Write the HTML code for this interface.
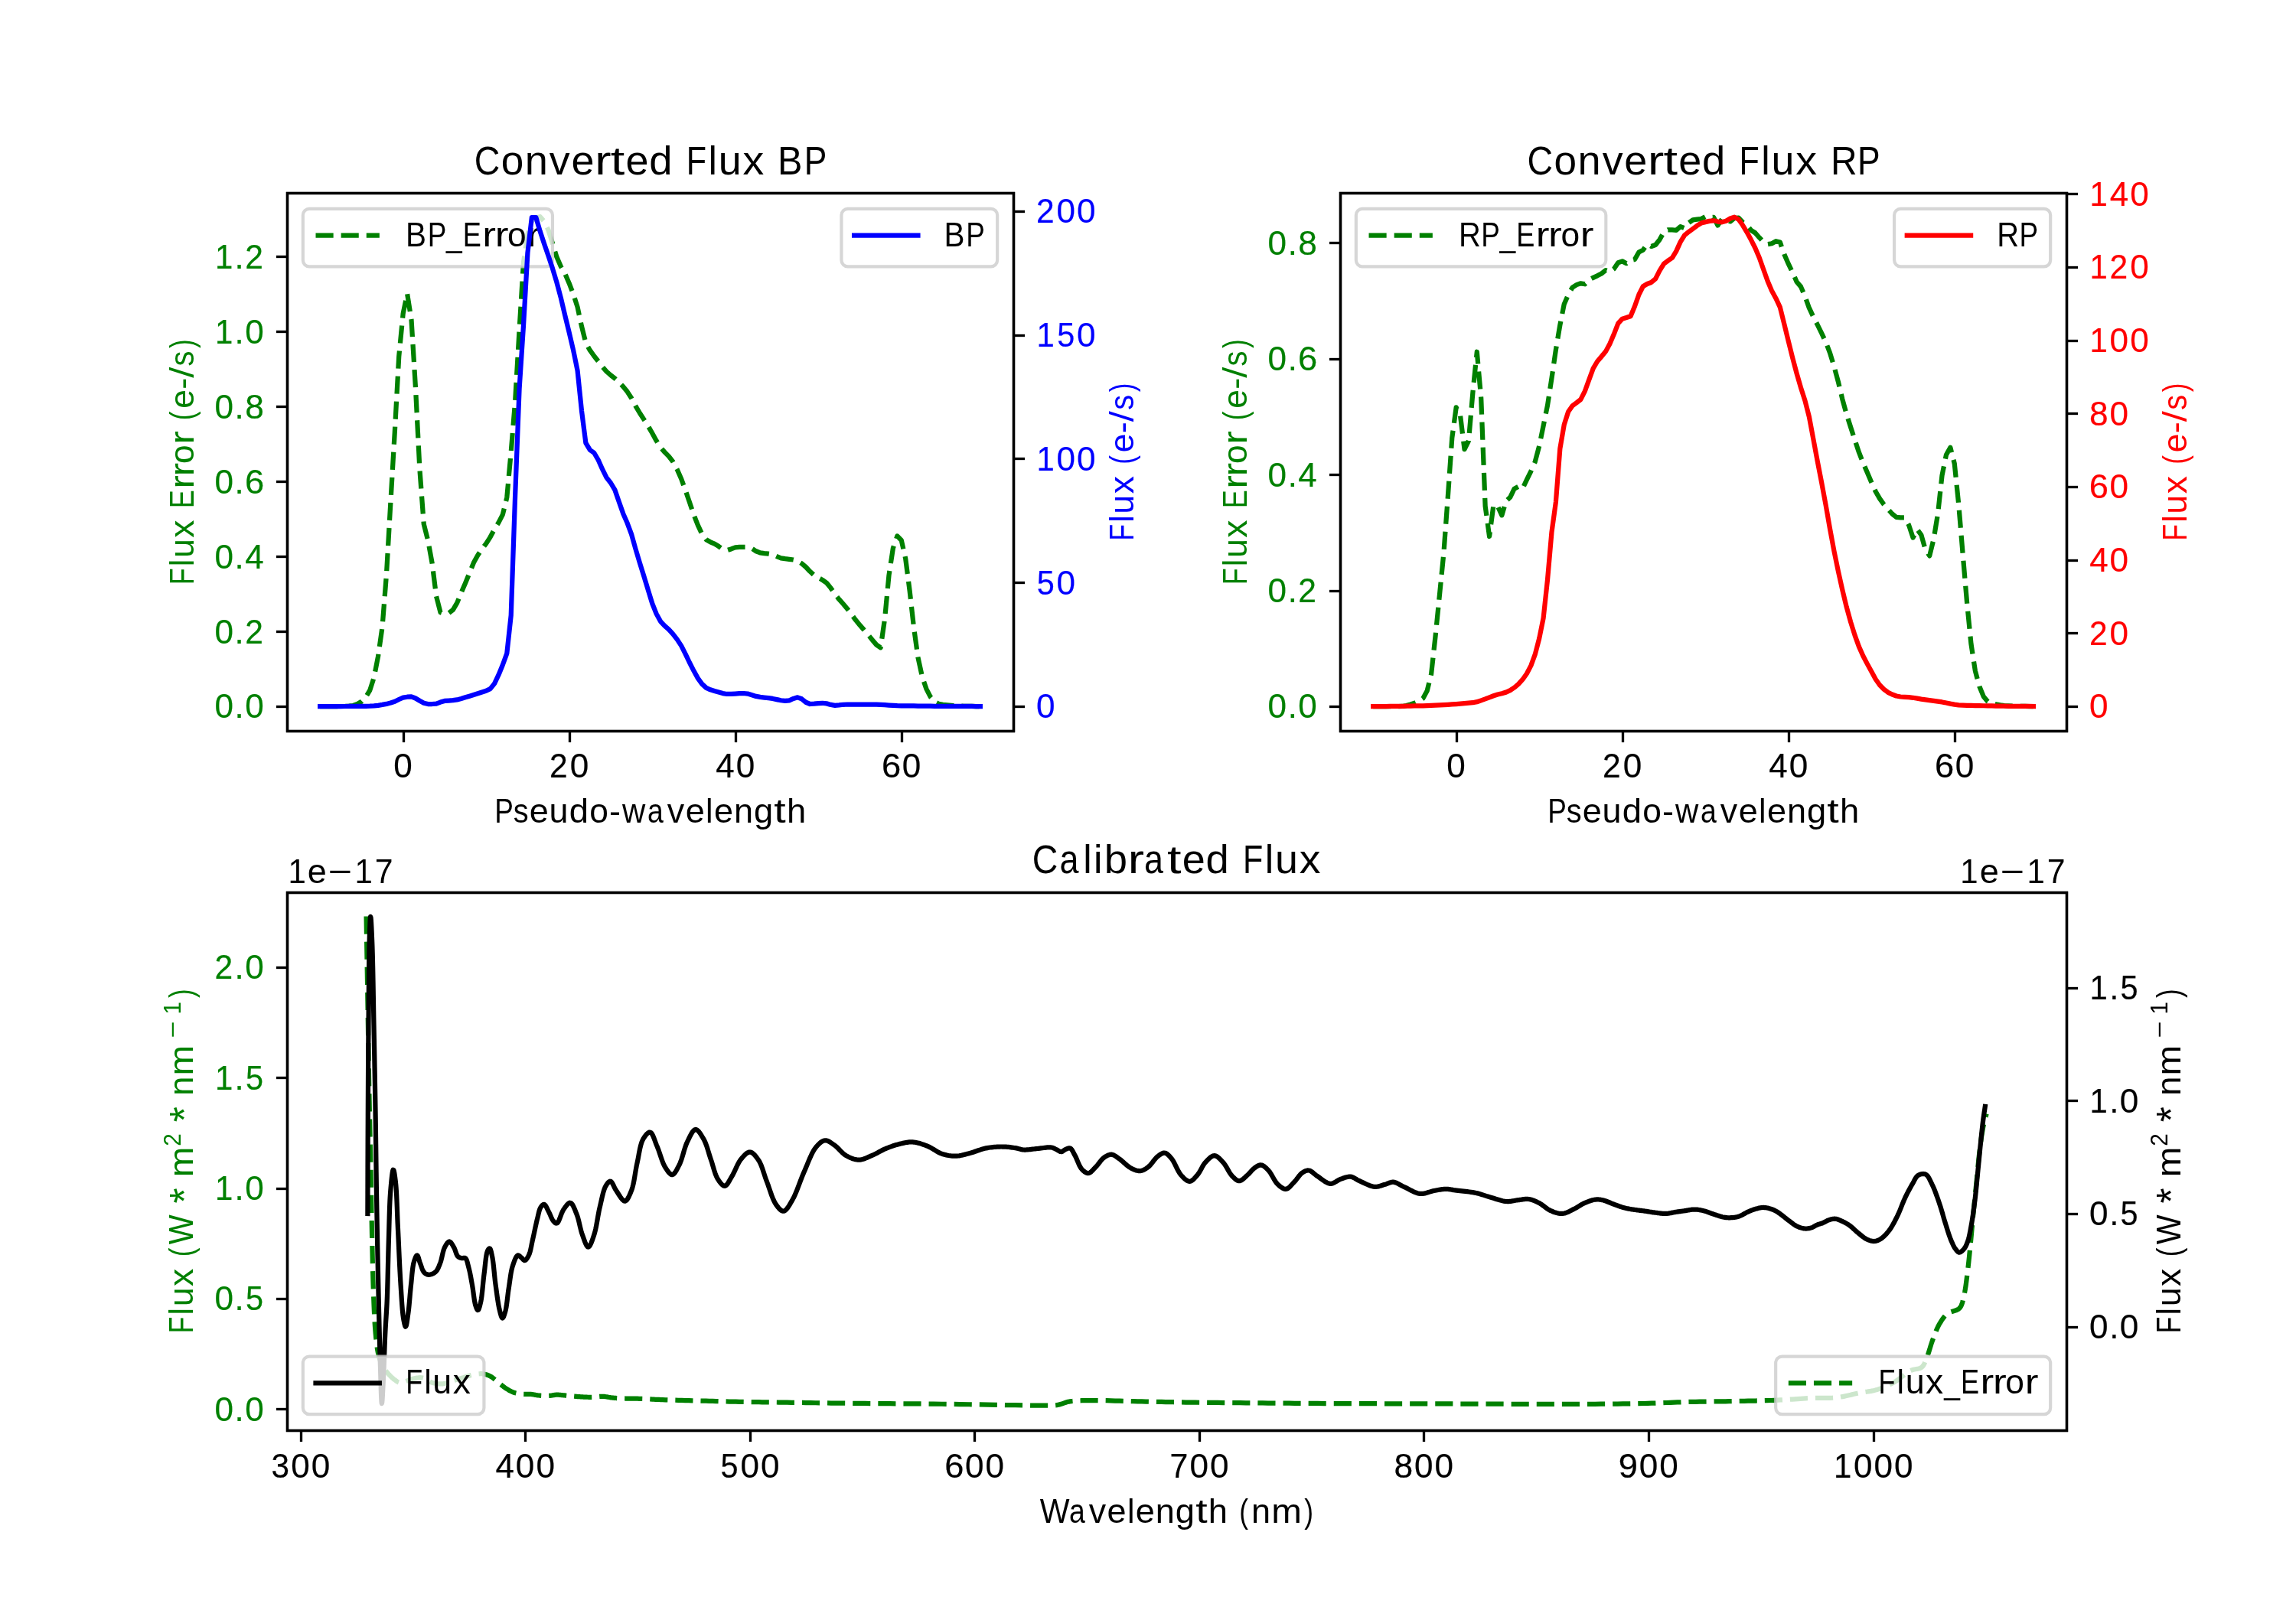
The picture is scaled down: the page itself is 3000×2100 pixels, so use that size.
<!DOCTYPE html><html><head><meta charset="utf-8"><style>html,body{margin:0;padding:0;background:#fff;overflow:hidden;}svg{display:block;will-change:transform;}text{font-family:"Liberation Sans", sans-serif;font-kerning:normal;}</style></head><body>
<svg width="3000" height="2100" viewBox="0 0 3000 2100">
<rect x="0" y="0" width="3000" height="2100" fill="#ffffff"/>
<defs>
<clipPath id="cTL"><rect x="375" y="252" width="948.98" height="703.04"/></clipPath>
<clipPath id="cTR"><rect x="1751.02" y="252" width="948.98" height="703.04"/></clipPath>
<clipPath id="cB"><rect x="375" y="1165.96" width="2325" height="703.04"/></clipPath>
</defs>
<path d="M418.14,923.08 L423.56,923.08 L428.99,923.08 L434.41,923.08 L439.84,923.08 L445.26,923.04 L450.69,922.91 L456.12,922.69 L461.54,922.01 L466.97,919.96 L472.39,916.77 L477.82,911.22 L483.25,902.13 L488.67,885.31 L494.1,857.48 L499.52,819.38 L504.95,750.87 L510.37,656.65 L515.8,564.59 L521.23,465.75 L526.65,409.95 L532.08,383.66 L537.5,417.72 L542.93,505.93 L548.36,612.59 L553.78,685 L559.21,706.38 L564.63,735.88 L570.06,779.25 L575.48,800.26 L580.91,801.98 L586.34,801.16 L591.76,797.07 L597.19,787.89 L602.61,774.59 L608.04,762.01 L613.47,748.8 L618.89,735.29 L624.32,725.55 L629.74,717.52 L635.17,710.38 L640.6,701.8 L646.02,691.78 L651.45,682.93 L656.87,672.33 L662.3,650.12 L667.72,590.63 L673.15,523.95 L678.58,431.32 L684,342.89 L689.43,305.62 L694.85,289.28 L700.28,284.31 L705.71,283.23 L711.13,289.48 L716.56,300.86 L721.98,318.19 L727.41,335.85 L732.83,348.27 L738.26,357.5 L743.69,370.19 L749.11,384.33 L754.54,401.15 L759.96,426.33 L765.39,448.01 L770.82,457.66 L776.24,465.29 L781.67,472.15 L787.09,479.21 L792.52,485.51 L797.94,490.27 L803.37,494.46 L808.8,499.48 L814.22,505.2 L819.65,511.82 L825.07,520.24 L830.5,530.63 L835.93,539.78 L841.35,548.14 L846.78,556.58 L852.2,566 L857.63,575.92 L863.05,584.57 L868.48,590.84 L873.91,596.36 L879.33,603.42 L884.76,613.54 L890.18,625.78 L895.61,640.8 L901.04,656.58 L906.46,672.57 L911.89,686.4 L917.31,697.94 L922.74,705.22 L928.16,708.27 L933.59,710.54 L939.02,713.98 L944.44,717.99 L949.87,719.14 L955.29,717.41 L960.72,715.34 L966.15,714.9 L971.57,714.9 L977,714.9 L982.42,716.77 L987.85,720.26 L993.27,722.45 L998.7,723.15 L1004.13,723.63 L1009.55,724.41 L1014.98,727.03 L1020.4,729.3 L1025.83,730.18 L1031.26,730.78 L1036.68,731.52 L1042.11,732.95 L1047.53,736.47 L1052.96,740.99 L1058.38,746.77 L1063.81,751.73 L1069.24,754.98 L1074.66,757.91 L1080.09,761.78 L1085.51,768.39 L1090.94,776.45 L1096.37,783.2 L1101.79,789.28 L1107.22,795.72 L1112.64,802.99 L1118.07,810.31 L1123.5,816.91 L1128.92,823.14 L1134.35,829.53 L1139.77,836.22 L1145.2,842.63 L1150.62,846.32 L1156.05,808.79 L1161.48,751.89 L1166.9,716.32 L1172.33,700.44 L1177.75,705.93 L1183.18,729.83 L1188.61,771.81 L1194.03,820.06 L1199.46,859.06 L1204.88,883.98 L1210.31,900.09 L1215.73,910.59 L1221.16,917.16 L1226.59,919.79 L1232.01,920.79 L1237.44,921.39 L1242.86,921.87 L1248.29,922.27 L1253.72,922.58 L1259.14,922.78 L1264.57,922.9 L1269.99,922.99 L1275.42,923.06 L1280.84,923.08" fill="none" stroke="#008000" stroke-width="6.25" stroke-linejoin="round" stroke-dasharray="23.125 10" stroke-linecap="butt" clip-path="url(#cTL)"/>
<rect x="395.83" y="272.83" width="326.11" height="75.6" rx="8.33" ry="8.33" fill="#ffffff" fill-opacity="0.8" stroke="#cccccc" stroke-opacity="0.8" stroke-width="4.1667"/><path d="M412.5,307.73 H495.83" stroke="#008000" stroke-width="6.25" stroke-dasharray="23.125 10" fill="none"/><text y="321.73" font-size="43.54" fill="#000000" xml:space="preserve"><tspan x="529.88" textLength="27.01" lengthAdjust="spacingAndGlyphs">B</tspan><tspan x="558.76" textLength="24.66" lengthAdjust="spacingAndGlyphs">P</tspan><tspan x="583.02" textLength="20.69" lengthAdjust="spacingAndGlyphs">_</tspan><tspan x="604.79" textLength="24.08" lengthAdjust="spacingAndGlyphs">E</tspan><tspan x="630.33" textLength="17.72" lengthAdjust="spacingAndGlyphs">r</tspan><tspan x="646.72" textLength="17.72" lengthAdjust="spacingAndGlyphs">r</tspan><tspan x="663.06" textLength="24.65" lengthAdjust="spacingAndGlyphs">o</tspan><tspan x="688.43" textLength="17.72" lengthAdjust="spacingAndGlyphs">r</tspan></text>
<path d="M418.14,923.08 L423.56,923.08 L428.99,923.07 L434.41,923.06 L439.84,923.05 L445.26,923.03 L450.69,923 L456.12,922.97 L461.54,922.93 L466.97,922.89 L472.39,922.84 L477.82,922.78 L483.25,922.71 L488.67,922.45 L494.1,921.8 L499.52,920.93 L504.95,919.91 L510.37,918.47 L515.8,916.71 L521.23,914.01 L526.65,911.6 L532.08,910.72 L537.5,910.42 L542.93,912.53 L548.36,915.77 L553.78,918.73 L559.21,920 L564.63,920 L570.06,919.65 L575.48,917.58 L580.91,915.96 L586.34,915.54 L591.76,915.2 L597.19,914.43 L602.61,913 L608.04,911.3 L613.47,909.67 L618.89,908 L624.32,906.24 L629.74,904.43 L635.17,902.8 L640.6,900.18 L646.02,893.35 L651.45,881.97 L656.87,868.8 L662.3,853.92 L667.72,804.06 L673.15,647.1 L678.58,507.9 L684,425.2 L689.43,330.24 L694.85,284 L700.28,284 L705.71,302.28 L711.13,318.7 L716.56,334.6 L721.98,350.86 L727.41,368.83 L732.83,389.24 L738.26,412.17 L743.69,434.45 L749.11,457.66 L754.54,484.04 L759.96,536.54 L765.39,578.84 L770.82,587.97 L776.24,591.73 L781.67,600.98 L787.09,613.23 L792.52,624.12 L797.94,631 L803.37,640.13 L808.8,655.83 L814.22,671.15 L819.65,683.55 L825.07,698.05 L830.5,717.47 L835.93,735.73 L841.35,752.98 L846.78,770.79 L852.2,788.53 L857.63,802.12 L863.05,812.07 L868.48,817.89 L873.91,822.59 L879.33,828.6 L884.76,835.65 L890.18,843.9 L895.61,854.55 L901.04,866.03 L906.46,876.59 L911.89,886.36 L917.31,893.9 L922.74,898.9 L928.16,901.29 L933.59,902.94 L939.02,904.44 L944.44,906.06 L949.87,906.98 L955.29,906.88 L960.72,906.56 L966.15,906.2 L971.57,906.01 L977,906.58 L982.42,908.23 L987.85,909.94 L993.27,910.89 L998.7,911.55 L1004.13,912.16 L1009.55,912.94 L1014.98,914.09 L1020.4,915.25 L1025.83,915.95 L1031.26,915.29 L1036.68,912.95 L1042.11,911.33 L1047.53,913.31 L1052.96,917.76 L1058.38,920 L1063.81,919.68 L1069.24,919.12 L1074.66,918.76 L1080.09,919.38 L1085.51,920.91 L1090.94,921.8 L1096.37,921.43 L1101.79,920.77 L1107.22,920.5 L1112.64,920.5 L1118.07,920.5 L1123.5,920.5 L1128.92,920.5 L1134.35,920.5 L1139.77,920.5 L1145.2,920.56 L1150.62,920.78 L1156.05,921.12 L1161.48,921.51 L1166.9,921.87 L1172.33,922.14 L1177.75,922.27 L1183.18,922.35 L1188.61,922.42 L1194.03,922.48 L1199.46,922.55 L1204.88,922.6 L1210.31,922.66 L1215.73,922.71 L1221.16,922.76 L1226.59,922.8 L1232.01,922.84 L1237.44,922.87 L1242.86,922.9 L1248.29,922.93 L1253.72,922.95 L1259.14,922.97 L1264.57,922.98 L1269.99,922.99 L1275.42,923 L1280.84,923" fill="none" stroke="#0000ff" stroke-width="6.25" stroke-linejoin="round" stroke-linecap="square" clip-path="url(#cTL)"/>
<rect x="1099.44" y="272.83" width="203.71" height="75.6" rx="8.33" ry="8.33" fill="#ffffff" fill-opacity="0.8" stroke="#cccccc" stroke-opacity="0.8" stroke-width="4.1667"/><path d="M1116.1,307.73 H1199.44" stroke="#0000ff" stroke-width="6.25" stroke-linecap="square" fill="none"/><text y="321.73" font-size="43.54" fill="#000000" xml:space="preserve"><tspan x="1233.49" textLength="27.01" lengthAdjust="spacingAndGlyphs">B</tspan><tspan x="1262.36" textLength="24.66" lengthAdjust="spacingAndGlyphs">P</tspan></text>
<rect x="375.5" y="252.5" width="949" height="703" fill="none" stroke="#000" stroke-width="3.33"/>
<rect x="375.5" y="252.5" width="949" height="703" fill="none" stroke="#000" stroke-width="3.33"/>
<path d="M527.5,955.5 v14.58" stroke="#000" stroke-width="3.33"/><text y="1016.24" font-size="44.17" fill="#000000" xml:space="preserve" stroke="#000000" stroke-width="0.22"><tspan x="514.34" textLength="24.51" lengthAdjust="spacingAndGlyphs">0</tspan></text><path d="M744.5,955.5 v14.58" stroke="#000" stroke-width="3.33"/><text y="1016.24" font-size="44.17" fill="#000000" xml:space="preserve" stroke="#000000" stroke-width="0.22"><tspan x="718.07" textLength="23.68" lengthAdjust="spacingAndGlyphs">2</tspan><tspan x="744.63" textLength="24.51" lengthAdjust="spacingAndGlyphs">0</tspan></text><path d="M961.5,955.5 v14.58" stroke="#000" stroke-width="3.33"/><text y="1016.24" font-size="44.17" fill="#000000" xml:space="preserve" stroke="#000000" stroke-width="0.22"><tspan x="935.2" textLength="24.44" lengthAdjust="spacingAndGlyphs">4</tspan><tspan x="961.67" textLength="24.51" lengthAdjust="spacingAndGlyphs">0</tspan></text><path d="M1178.5,955.5 v14.58" stroke="#000" stroke-width="3.33"/><text y="1016.24" font-size="44.17" fill="#000000" xml:space="preserve" stroke="#000000" stroke-width="0.22"><tspan x="1151.9" textLength="25.18" lengthAdjust="spacingAndGlyphs">6</tspan><tspan x="1178.7" textLength="24.51" lengthAdjust="spacingAndGlyphs">0</tspan></text>
<path d="M375.5,923.5 h-14.58" stroke="#000" stroke-width="3.33"/><text y="938.48" font-size="44.17" fill="#008000" xml:space="preserve" stroke="#008000" stroke-width="0.22"><tspan x="280.51" textLength="24.51" lengthAdjust="spacingAndGlyphs">0</tspan><tspan x="306.61" textLength="12.17" lengthAdjust="spacingAndGlyphs">.</tspan><tspan x="320.27" textLength="24.51" lengthAdjust="spacingAndGlyphs">0</tspan></text><path d="M375.5,825.5 h-14.58" stroke="#000" stroke-width="3.33"/><text y="840.51" font-size="44.17" fill="#008000" xml:space="preserve" stroke="#008000" stroke-width="0.22"><tspan x="280.51" textLength="24.51" lengthAdjust="spacingAndGlyphs">0</tspan><tspan x="306.61" textLength="12.17" lengthAdjust="spacingAndGlyphs">.</tspan><tspan x="320.21" textLength="23.68" lengthAdjust="spacingAndGlyphs">2</tspan></text><path d="M375.5,727.5 h-14.58" stroke="#000" stroke-width="3.33"/><text y="742.54" font-size="44.17" fill="#008000" xml:space="preserve" stroke="#008000" stroke-width="0.22"><tspan x="280.51" textLength="24.51" lengthAdjust="spacingAndGlyphs">0</tspan><tspan x="306.61" textLength="12.17" lengthAdjust="spacingAndGlyphs">.</tspan><tspan x="320.31" textLength="24.44" lengthAdjust="spacingAndGlyphs">4</tspan></text><path d="M375.5,629.5 h-14.58" stroke="#000" stroke-width="3.33"/><text y="644.57" font-size="44.17" fill="#008000" xml:space="preserve" stroke="#008000" stroke-width="0.22"><tspan x="280.51" textLength="24.51" lengthAdjust="spacingAndGlyphs">0</tspan><tspan x="306.61" textLength="12.17" lengthAdjust="spacingAndGlyphs">.</tspan><tspan x="319.98" textLength="25.18" lengthAdjust="spacingAndGlyphs">6</tspan></text><path d="M375.5,531.5 h-14.58" stroke="#000" stroke-width="3.33"/><text y="546.6" font-size="44.17" fill="#008000" xml:space="preserve" stroke="#008000" stroke-width="0.22"><tspan x="280.51" textLength="24.51" lengthAdjust="spacingAndGlyphs">0</tspan><tspan x="306.61" textLength="12.17" lengthAdjust="spacingAndGlyphs">.</tspan><tspan x="320.25" textLength="24.65" lengthAdjust="spacingAndGlyphs">8</tspan></text><path d="M375.5,433.5 h-14.58" stroke="#000" stroke-width="3.33"/><text y="448.63" font-size="44.17" fill="#008000" xml:space="preserve" stroke="#008000" stroke-width="0.22"><tspan x="281.01" textLength="23.31" lengthAdjust="spacingAndGlyphs">1</tspan><tspan x="306.61" textLength="12.17" lengthAdjust="spacingAndGlyphs">.</tspan><tspan x="320.27" textLength="24.51" lengthAdjust="spacingAndGlyphs">0</tspan></text><path d="M375.5,335.5 h-14.58" stroke="#000" stroke-width="3.33"/><text y="350.66" font-size="44.17" fill="#008000" xml:space="preserve" stroke="#008000" stroke-width="0.22"><tspan x="281.01" textLength="23.31" lengthAdjust="spacingAndGlyphs">1</tspan><tspan x="306.61" textLength="12.17" lengthAdjust="spacingAndGlyphs">.</tspan><tspan x="320.21" textLength="23.68" lengthAdjust="spacingAndGlyphs">2</tspan></text>
<path d="M1324.5,923.5 h14.58" stroke="#000" stroke-width="3.33"/><text y="938.48" font-size="44.17" fill="#0000ff" xml:space="preserve" stroke="#0000ff" stroke-width="0.22"><tspan x="1354.09" textLength="24.51" lengthAdjust="spacingAndGlyphs">0</tspan></text><path d="M1324.5,761.5 h14.58" stroke="#000" stroke-width="3.33"/><text y="776.66" font-size="44.17" fill="#0000ff" xml:space="preserve" stroke="#0000ff" stroke-width="0.22"><tspan x="1354.72" textLength="23.05" lengthAdjust="spacingAndGlyphs">5</tspan><tspan x="1380.6" textLength="24.51" lengthAdjust="spacingAndGlyphs">0</tspan></text><path d="M1324.5,599.5 h14.58" stroke="#000" stroke-width="3.33"/><text y="614.84" font-size="44.17" fill="#0000ff" xml:space="preserve" stroke="#0000ff" stroke-width="0.22"><tspan x="1354.59" textLength="23.31" lengthAdjust="spacingAndGlyphs">1</tspan><tspan x="1380.6" textLength="24.51" lengthAdjust="spacingAndGlyphs">0</tspan><tspan x="1407.11" textLength="24.51" lengthAdjust="spacingAndGlyphs">0</tspan></text><path d="M1324.5,438.5 h14.58" stroke="#000" stroke-width="3.33"/><text y="453.02" font-size="44.17" fill="#0000ff" xml:space="preserve" stroke="#0000ff" stroke-width="0.22"><tspan x="1354.59" textLength="23.31" lengthAdjust="spacingAndGlyphs">1</tspan><tspan x="1381.23" textLength="23.05" lengthAdjust="spacingAndGlyphs">5</tspan><tspan x="1407.11" textLength="24.51" lengthAdjust="spacingAndGlyphs">0</tspan></text><path d="M1324.5,276.5 h14.58" stroke="#000" stroke-width="3.33"/><text y="291.2" font-size="44.17" fill="#0000ff" xml:space="preserve" stroke="#0000ff" stroke-width="0.22"><tspan x="1354.04" textLength="23.68" lengthAdjust="spacingAndGlyphs">2</tspan><tspan x="1380.6" textLength="24.51" lengthAdjust="spacingAndGlyphs">0</tspan><tspan x="1407.11" textLength="24.51" lengthAdjust="spacingAndGlyphs">0</tspan></text>
<text y="228.4" font-size="52.25" fill="#000000" xml:space="preserve"><tspan x="619.73" textLength="33.55" lengthAdjust="spacingAndGlyphs">C</tspan><tspan x="654.7" textLength="29.57" lengthAdjust="spacingAndGlyphs">o</tspan><tspan x="685.65" textLength="30.1" lengthAdjust="spacingAndGlyphs">n</tspan><tspan x="717.86" textLength="26.89" lengthAdjust="spacingAndGlyphs">v</tspan><tspan x="746.54" textLength="30.03" lengthAdjust="spacingAndGlyphs">e</tspan><tspan x="777.19" textLength="21.27" lengthAdjust="spacingAndGlyphs">r</tspan><tspan x="797.78" textLength="18.52" lengthAdjust="spacingAndGlyphs">t</tspan><tspan x="817.46" textLength="30.03" lengthAdjust="spacingAndGlyphs">e</tspan><tspan x="848.2" textLength="30.28" lengthAdjust="spacingAndGlyphs">d</tspan> <tspan x="896.72" textLength="26.31" lengthAdjust="spacingAndGlyphs">F</tspan><tspan x="925.44" textLength="11.43" lengthAdjust="spacingAndGlyphs">l</tspan><tspan x="938.8" textLength="29.94" lengthAdjust="spacingAndGlyphs">u</tspan><tspan x="970.55" textLength="27.76" lengthAdjust="spacingAndGlyphs">x</tspan> <tspan x="1016.09" textLength="32.41" lengthAdjust="spacingAndGlyphs">B</tspan><tspan x="1050.74" textLength="29.59" lengthAdjust="spacingAndGlyphs">P</tspan></text>
<text y="1075.3" font-size="43.54" fill="#000000" xml:space="preserve"><tspan x="646.19" textLength="24.66" lengthAdjust="spacingAndGlyphs">P</tspan><tspan x="670.77" textLength="19.88" lengthAdjust="spacingAndGlyphs">s</tspan><tspan x="691.66" textLength="25.02" lengthAdjust="spacingAndGlyphs">e</tspan><tspan x="717.55" textLength="24.95" lengthAdjust="spacingAndGlyphs">u</tspan><tspan x="743.69" textLength="25.23" lengthAdjust="spacingAndGlyphs">d</tspan><tspan x="770.18" textLength="24.65" lengthAdjust="spacingAndGlyphs">o</tspan><tspan x="795.99" textLength="15.01" lengthAdjust="spacingAndGlyphs">-</tspan><tspan x="812.95" textLength="30.3" lengthAdjust="spacingAndGlyphs">w</tspan><tspan x="846.07" textLength="20.81" lengthAdjust="spacingAndGlyphs">a</tspan><tspan x="871.83" textLength="22.41" lengthAdjust="spacingAndGlyphs">v</tspan><tspan x="895.73" textLength="25.02" lengthAdjust="spacingAndGlyphs">e</tspan><tspan x="922.05" textLength="9.52" lengthAdjust="spacingAndGlyphs">l</tspan><tspan x="932.94" textLength="25.02" lengthAdjust="spacingAndGlyphs">e</tspan><tspan x="958.9" textLength="25.08" lengthAdjust="spacingAndGlyphs">n</tspan><tspan x="984.97" textLength="25.23" lengthAdjust="spacingAndGlyphs">g</tspan><tspan x="1011.37" textLength="15.44" lengthAdjust="spacingAndGlyphs">t</tspan><tspan x="1027.96" textLength="25.23" lengthAdjust="spacingAndGlyphs">h</tspan></text>
<g transform="translate(252.5,603.5) rotate(-90)"><text y="0" font-size="43.54" fill="#008000" xml:space="preserve"><tspan x="-160.69" textLength="21.93" lengthAdjust="spacingAndGlyphs">F</tspan><tspan x="-136.76" textLength="9.52" lengthAdjust="spacingAndGlyphs">l</tspan><tspan x="-125.63" textLength="24.95" lengthAdjust="spacingAndGlyphs">u</tspan><tspan x="-99.17" textLength="23.14" lengthAdjust="spacingAndGlyphs">x</tspan> <tspan x="-60.86" textLength="24.08" lengthAdjust="spacingAndGlyphs">E</tspan><tspan x="-35.32" textLength="17.72" lengthAdjust="spacingAndGlyphs">r</tspan><tspan x="-18.92" textLength="17.72" lengthAdjust="spacingAndGlyphs">r</tspan><tspan x="-2.59" textLength="24.65" lengthAdjust="spacingAndGlyphs">o</tspan><tspan x="22.78" textLength="17.72" lengthAdjust="spacingAndGlyphs">r</tspan> <tspan x="54.2" textLength="11.78" lengthAdjust="spacingAndGlyphs">(</tspan><tspan x="69.51" textLength="25.02" lengthAdjust="spacingAndGlyphs">e</tspan><tspan x="94.71" textLength="15.01" lengthAdjust="spacingAndGlyphs">-</tspan><tspan x="109.8" textLength="14.08" lengthAdjust="spacingAndGlyphs">/</tspan><tspan x="125.03" textLength="19.88" lengthAdjust="spacingAndGlyphs">s</tspan><tspan x="148.61" textLength="11.78" lengthAdjust="spacingAndGlyphs">)</tspan></text></g>
<g transform="translate(1481,603.5) rotate(-90)"><text y="0" font-size="43.54" fill="#0000ff" xml:space="preserve"><tspan x="-103.29" textLength="21.93" lengthAdjust="spacingAndGlyphs">F</tspan><tspan x="-79.36" textLength="9.52" lengthAdjust="spacingAndGlyphs">l</tspan><tspan x="-68.22" textLength="24.95" lengthAdjust="spacingAndGlyphs">u</tspan><tspan x="-41.77" textLength="23.14" lengthAdjust="spacingAndGlyphs">x</tspan> <tspan x="-3.21" textLength="11.78" lengthAdjust="spacingAndGlyphs">(</tspan><tspan x="12.1" textLength="25.02" lengthAdjust="spacingAndGlyphs">e</tspan><tspan x="37.31" textLength="15.01" lengthAdjust="spacingAndGlyphs">-</tspan><tspan x="52.39" textLength="14.08" lengthAdjust="spacingAndGlyphs">/</tspan><tspan x="67.63" textLength="19.88" lengthAdjust="spacingAndGlyphs">s</tspan><tspan x="91.21" textLength="11.78" lengthAdjust="spacingAndGlyphs">)</tspan></text></g>
<path d="M1794.2,923.08 L1799.58,923.08 L1805.01,923.08 L1810.43,923.08 L1815.86,923.08 L1821.28,923.08 L1826.71,923.08 L1832.14,922.99 L1837.56,922.09 L1842.99,920.52 L1848.41,918.66 L1853.84,916.46 L1859.27,912.66 L1864.69,902.8 L1870.12,880.75 L1875.54,831.44 L1880.97,777.37 L1886.39,722.91 L1891.82,649.4 L1897.25,572.43 L1902.67,532.4 L1908.1,543.61 L1913.52,587.1 L1918.95,576.08 L1924.38,513.22 L1929.8,459.76 L1935.23,520.53 L1940.65,661.43 L1946.08,700.95 L1951.5,659.6 L1956.93,661.59 L1962.36,673.36 L1967.78,654.98 L1973.21,649.8 L1978.63,638.64 L1984.06,635.72 L1989.49,638.41 L1994.91,626.82 L2000.34,615.81 L2005.76,603.42 L2011.19,582.85 L2016.62,556.26 L2022.04,529.65 L2027.47,494.33 L2032.89,457.17 L2038.32,424.88 L2043.74,397.42 L2049.17,385 L2054.6,375.54 L2060.02,372.13 L2065.45,370.34 L2070.87,371.25 L2076.3,365.56 L2081.73,362.84 L2087.15,360.3 L2092.58,357.45 L2098,353.11 L2103.43,355.32 L2108.85,351.32 L2114.28,343.31 L2119.71,341.4 L2125.13,344.2 L2130.56,340.15 L2135.98,339.03 L2141.41,329.47 L2146.84,326.73 L2152.26,319.1 L2157.69,321.94 L2163.11,320.04 L2168.54,313.05 L2173.96,303.36 L2179.39,300.34 L2184.82,300.49 L2190.24,300.78 L2195.67,296.1 L2201.09,298.18 L2206.52,291.14 L2211.95,287.32 L2217.37,286.7 L2222.8,286.04 L2228.22,283.11 L2233.65,284.35 L2239.07,283.82 L2244.5,294.56 L2249.93,286.22 L2255.35,286.97 L2260.78,289.46 L2266.2,285.14 L2271.63,284.6 L2277.06,290.49 L2282.48,294.17 L2287.91,300.84 L2293.33,304.26 L2298.76,310.45 L2304.18,316.09 L2309.61,319.18 L2315.04,318.28 L2320.46,315.23 L2325.89,316.62 L2331.31,332.33 L2336.74,344.65 L2342.17,355.99 L2347.59,368.2 L2353.02,374.63 L2358.44,387.28 L2363.87,402.44 L2369.29,413.89 L2374.72,424.42 L2380.15,435.35 L2385.57,446.85 L2391,461.08 L2396.42,478.8 L2401.85,498.84 L2407.28,521.55 L2412.7,541.21 L2418.13,558.22 L2423.55,574.94 L2428.98,591.15 L2434.4,604.97 L2439.83,617.52 L2445.26,630.17 L2450.68,642.23 L2456.11,651.67 L2461.53,659.25 L2466.96,665.46 L2472.39,671.48 L2477.81,675.9 L2483.24,676.4 L2488.66,676.4 L2494.09,686.11 L2499.52,702.52 L2504.94,691.7 L2510.37,699.03 L2515.79,718.19 L2521.22,726.38 L2526.64,704.11 L2532.07,671.34 L2537.5,621.46 L2542.92,594.62 L2548.35,584.69 L2553.77,605.86 L2559.2,658.71 L2564.63,723.84 L2570.05,787.08 L2575.48,841.6 L2580.9,876.81 L2586.33,897.01 L2591.75,910.14 L2597.18,916.68 L2602.61,918.97 L2608.03,920.31 L2613.46,921.29 L2618.88,922.01 L2624.31,922.34 L2629.74,922.56 L2635.16,922.74 L2640.59,922.89 L2646.01,922.99 L2651.44,923.06 L2656.86,923.08" fill="none" stroke="#008000" stroke-width="6.25" stroke-linejoin="round" stroke-dasharray="23.125 10" stroke-linecap="butt" clip-path="url(#cTR)"/>
<rect x="1771.85" y="272.83" width="326.47" height="75.6" rx="8.33" ry="8.33" fill="#ffffff" fill-opacity="0.8" stroke="#cccccc" stroke-opacity="0.8" stroke-width="4.1667"/><path d="M1788.52,307.73 H1871.85" stroke="#008000" stroke-width="6.25" stroke-dasharray="23.125 10" fill="none"/><text y="321.73" font-size="43.54" fill="#000000" xml:space="preserve"><tspan x="1905.95" textLength="28.82" lengthAdjust="spacingAndGlyphs">R</tspan><tspan x="1935.15" textLength="24.66" lengthAdjust="spacingAndGlyphs">P</tspan><tspan x="1959.4" textLength="20.69" lengthAdjust="spacingAndGlyphs">_</tspan><tspan x="1981.18" textLength="24.08" lengthAdjust="spacingAndGlyphs">E</tspan><tspan x="2006.71" textLength="17.72" lengthAdjust="spacingAndGlyphs">r</tspan><tspan x="2023.11" textLength="17.72" lengthAdjust="spacingAndGlyphs">r</tspan><tspan x="2039.44" textLength="24.65" lengthAdjust="spacingAndGlyphs">o</tspan><tspan x="2064.82" textLength="17.72" lengthAdjust="spacingAndGlyphs">r</tspan></text>
<path d="M1794.2,923.08 L1799.58,923.07 L1805.01,923.05 L1810.43,923.02 L1815.86,922.97 L1821.28,922.91 L1826.71,922.84 L1832.14,922.77 L1837.56,922.68 L1842.99,922.59 L1848.41,922.49 L1853.84,922.38 L1859.27,922.27 L1864.69,922.14 L1870.12,921.95 L1875.54,921.72 L1880.97,921.46 L1886.39,921.18 L1891.82,920.83 L1897.25,920.45 L1902.67,920.03 L1908.1,919.59 L1913.52,919.15 L1918.95,918.74 L1924.38,918.21 L1929.8,917.17 L1935.23,915.34 L1940.65,913.42 L1946.08,911.34 L1951.5,909.25 L1956.93,907.51 L1962.36,906.16 L1967.78,904.63 L1973.21,902.2 L1978.63,898.52 L1984.06,893.95 L1989.49,887.97 L1994.91,880.27 L2000.34,869.9 L2005.76,855.17 L2011.19,834.37 L2016.62,807.51 L2022.04,757.31 L2027.47,695.36 L2032.89,656.07 L2038.32,586.39 L2043.74,555 L2049.17,538 L2054.6,530.21 L2060.02,526.28 L2065.45,521.97 L2070.87,511.09 L2076.3,496.1 L2081.73,481.44 L2087.15,472.21 L2092.58,465.91 L2098,459.36 L2103.43,449.24 L2108.85,436.55 L2114.28,422.68 L2119.71,416.67 L2125.13,415.05 L2130.56,413.23 L2135.98,400.29 L2141.41,384.98 L2146.84,374.29 L2152.26,371.03 L2157.69,368.96 L2163.11,364.35 L2168.54,353.67 L2173.96,344.8 L2179.39,340.65 L2184.82,337.01 L2190.24,328.14 L2195.67,316.1 L2201.09,307.39 L2206.52,302.91 L2211.95,298.99 L2217.37,294.92 L2222.8,291.57 L2228.22,290.11 L2233.65,288.9 L2239.07,288.31 L2244.5,289.56 L2249.93,290.35 L2255.35,288.78 L2260.78,285.56 L2266.2,283.64 L2271.63,286.73 L2277.06,294.27 L2282.48,303.28 L2287.91,313.29 L2293.33,323.97 L2298.76,336.76 L2304.18,351.99 L2309.61,367.23 L2315.04,380.03 L2320.46,389.9 L2325.89,401.68 L2331.31,423.44 L2336.74,445.7 L2342.17,467.54 L2347.59,487.92 L2353.02,506.67 L2358.44,523.55 L2363.87,544.65 L2369.29,573.52 L2374.72,602.69 L2380.15,630.67 L2385.57,659.78 L2391,690.9 L2396.42,719.97 L2401.85,746.46 L2407.28,770.74 L2412.7,793.2 L2418.13,812.81 L2423.55,830.17 L2428.98,845.12 L2434.4,857.26 L2439.83,867.67 L2445.26,877.61 L2450.68,887.47 L2456.11,895.22 L2461.53,900.7 L2466.96,904.83 L2472.39,907.5 L2477.81,909.49 L2483.24,910.5 L2488.66,910.88 L2494.09,911.19 L2499.52,911.79 L2504.94,912.67 L2510.37,913.61 L2515.79,914.41 L2521.22,915.14 L2526.64,915.86 L2532.07,916.61 L2537.5,917.45 L2542.92,918.51 L2548.35,919.63 L2553.77,920.62 L2559.2,921.28 L2564.63,921.56 L2570.05,921.76 L2575.48,921.92 L2580.9,922.05 L2586.33,922.16 L2591.75,922.25 L2597.18,922.35 L2602.61,922.44 L2608.03,922.52 L2613.46,922.61 L2618.88,922.69 L2624.31,922.76 L2629.74,922.83 L2635.16,922.88 L2640.59,922.93 L2646.01,922.97 L2651.44,922.99 L2656.86,923" fill="none" stroke="#ff0000" stroke-width="6.25" stroke-linejoin="round" stroke-linecap="square" clip-path="url(#cTR)"/>
<rect x="2475.09" y="272.83" width="204.08" height="75.6" rx="8.33" ry="8.33" fill="#ffffff" fill-opacity="0.8" stroke="#cccccc" stroke-opacity="0.8" stroke-width="4.1667"/><path d="M2491.76,307.73 H2575.09" stroke="#ff0000" stroke-width="6.25" stroke-linecap="square" fill="none"/><text y="321.73" font-size="43.54" fill="#000000" xml:space="preserve"><tspan x="2609.19" textLength="28.82" lengthAdjust="spacingAndGlyphs">R</tspan><tspan x="2638.38" textLength="24.66" lengthAdjust="spacingAndGlyphs">P</tspan></text>
<rect x="1751.5" y="252.5" width="949" height="703" fill="none" stroke="#000" stroke-width="3.33"/>
<rect x="1751.5" y="252.5" width="949" height="703" fill="none" stroke="#000" stroke-width="3.33"/>
<path d="M1903.5,955.5 v14.58" stroke="#000" stroke-width="3.33"/><text y="1016.24" font-size="44.17" fill="#000000" xml:space="preserve" stroke="#000000" stroke-width="0.22"><tspan x="1890.36" textLength="24.51" lengthAdjust="spacingAndGlyphs">0</tspan></text><path d="M2120.5,955.5 v14.58" stroke="#000" stroke-width="3.33"/><text y="1016.24" font-size="44.17" fill="#000000" xml:space="preserve" stroke="#000000" stroke-width="0.22"><tspan x="2094.09" textLength="23.68" lengthAdjust="spacingAndGlyphs">2</tspan><tspan x="2120.65" textLength="24.51" lengthAdjust="spacingAndGlyphs">0</tspan></text><path d="M2337.5,955.5 v14.58" stroke="#000" stroke-width="3.33"/><text y="1016.24" font-size="44.17" fill="#000000" xml:space="preserve" stroke="#000000" stroke-width="0.22"><tspan x="2311.22" textLength="24.44" lengthAdjust="spacingAndGlyphs">4</tspan><tspan x="2337.69" textLength="24.51" lengthAdjust="spacingAndGlyphs">0</tspan></text><path d="M2554.5,955.5 v14.58" stroke="#000" stroke-width="3.33"/><text y="1016.24" font-size="44.17" fill="#000000" xml:space="preserve" stroke="#000000" stroke-width="0.22"><tspan x="2527.92" textLength="25.18" lengthAdjust="spacingAndGlyphs">6</tspan><tspan x="2554.72" textLength="24.51" lengthAdjust="spacingAndGlyphs">0</tspan></text>
<path d="M1751.5,923.5 h-14.58" stroke="#000" stroke-width="3.33"/><text y="938.48" font-size="44.17" fill="#008000" xml:space="preserve" stroke="#008000" stroke-width="0.22"><tspan x="1656.53" textLength="24.51" lengthAdjust="spacingAndGlyphs">0</tspan><tspan x="1682.63" textLength="12.17" lengthAdjust="spacingAndGlyphs">.</tspan><tspan x="1696.29" textLength="24.51" lengthAdjust="spacingAndGlyphs">0</tspan></text><path d="M1751.5,772.5 h-14.58" stroke="#000" stroke-width="3.33"/><text y="787.08" font-size="44.17" fill="#008000" xml:space="preserve" stroke="#008000" stroke-width="0.22"><tspan x="1656.53" textLength="24.51" lengthAdjust="spacingAndGlyphs">0</tspan><tspan x="1682.63" textLength="12.17" lengthAdjust="spacingAndGlyphs">.</tspan><tspan x="1696.23" textLength="23.68" lengthAdjust="spacingAndGlyphs">2</tspan></text><path d="M1751.5,620.5 h-14.58" stroke="#000" stroke-width="3.33"/><text y="635.68" font-size="44.17" fill="#008000" xml:space="preserve" stroke="#008000" stroke-width="0.22"><tspan x="1656.53" textLength="24.51" lengthAdjust="spacingAndGlyphs">0</tspan><tspan x="1682.63" textLength="12.17" lengthAdjust="spacingAndGlyphs">.</tspan><tspan x="1696.33" textLength="24.44" lengthAdjust="spacingAndGlyphs">4</tspan></text><path d="M1751.5,469.5 h-14.58" stroke="#000" stroke-width="3.33"/><text y="484.28" font-size="44.17" fill="#008000" xml:space="preserve" stroke="#008000" stroke-width="0.22"><tspan x="1656.53" textLength="24.51" lengthAdjust="spacingAndGlyphs">0</tspan><tspan x="1682.63" textLength="12.17" lengthAdjust="spacingAndGlyphs">.</tspan><tspan x="1696" textLength="25.18" lengthAdjust="spacingAndGlyphs">6</tspan></text><path d="M1751.5,317.5 h-14.58" stroke="#000" stroke-width="3.33"/><text y="332.88" font-size="44.17" fill="#008000" xml:space="preserve" stroke="#008000" stroke-width="0.22"><tspan x="1656.53" textLength="24.51" lengthAdjust="spacingAndGlyphs">0</tspan><tspan x="1682.63" textLength="12.17" lengthAdjust="spacingAndGlyphs">.</tspan><tspan x="1696.27" textLength="24.65" lengthAdjust="spacingAndGlyphs">8</tspan></text>
<path d="M2700.5,923.5 h14.58" stroke="#000" stroke-width="3.33"/><text y="938.48" font-size="44.17" fill="#ff0000" xml:space="preserve" stroke="#ff0000" stroke-width="0.22"><tspan x="2730.11" textLength="24.51" lengthAdjust="spacingAndGlyphs">0</tspan></text><path d="M2700.5,827.5 h14.58" stroke="#000" stroke-width="3.33"/><text y="842.78" font-size="44.17" fill="#ff0000" xml:space="preserve" stroke="#ff0000" stroke-width="0.22"><tspan x="2730.06" textLength="23.68" lengthAdjust="spacingAndGlyphs">2</tspan><tspan x="2756.62" textLength="24.51" lengthAdjust="spacingAndGlyphs">0</tspan></text><path d="M2700.5,732.5 h14.58" stroke="#000" stroke-width="3.33"/><text y="747.08" font-size="44.17" fill="#ff0000" xml:space="preserve" stroke="#ff0000" stroke-width="0.22"><tspan x="2730.16" textLength="24.44" lengthAdjust="spacingAndGlyphs">4</tspan><tspan x="2756.62" textLength="24.51" lengthAdjust="spacingAndGlyphs">0</tspan></text><path d="M2700.5,636.5 h14.58" stroke="#000" stroke-width="3.33"/><text y="651.38" font-size="44.17" fill="#ff0000" xml:space="preserve" stroke="#ff0000" stroke-width="0.22"><tspan x="2729.82" textLength="25.18" lengthAdjust="spacingAndGlyphs">6</tspan><tspan x="2756.62" textLength="24.51" lengthAdjust="spacingAndGlyphs">0</tspan></text><path d="M2700.5,540.5 h14.58" stroke="#000" stroke-width="3.33"/><text y="555.68" font-size="44.17" fill="#ff0000" xml:space="preserve" stroke="#ff0000" stroke-width="0.22"><tspan x="2730.1" textLength="24.65" lengthAdjust="spacingAndGlyphs">8</tspan><tspan x="2756.62" textLength="24.51" lengthAdjust="spacingAndGlyphs">0</tspan></text><path d="M2700.5,445.5 h14.58" stroke="#000" stroke-width="3.33"/><text y="459.98" font-size="44.17" fill="#ff0000" xml:space="preserve" stroke="#ff0000" stroke-width="0.22"><tspan x="2730.61" textLength="23.31" lengthAdjust="spacingAndGlyphs">1</tspan><tspan x="2756.62" textLength="24.51" lengthAdjust="spacingAndGlyphs">0</tspan><tspan x="2783.13" textLength="24.51" lengthAdjust="spacingAndGlyphs">0</tspan></text><path d="M2700.5,349.5 h14.58" stroke="#000" stroke-width="3.33"/><text y="364.28" font-size="44.17" fill="#ff0000" xml:space="preserve" stroke="#ff0000" stroke-width="0.22"><tspan x="2730.61" textLength="23.31" lengthAdjust="spacingAndGlyphs">1</tspan><tspan x="2756.57" textLength="23.68" lengthAdjust="spacingAndGlyphs">2</tspan><tspan x="2783.13" textLength="24.51" lengthAdjust="spacingAndGlyphs">0</tspan></text><path d="M2700.5,253.5 h14.58" stroke="#000" stroke-width="3.33"/><text y="268.58" font-size="44.17" fill="#ff0000" xml:space="preserve" stroke="#ff0000" stroke-width="0.22"><tspan x="2730.61" textLength="23.31" lengthAdjust="spacingAndGlyphs">1</tspan><tspan x="2756.67" textLength="24.44" lengthAdjust="spacingAndGlyphs">4</tspan><tspan x="2783.13" textLength="24.51" lengthAdjust="spacingAndGlyphs">0</tspan></text>
<text y="228.4" font-size="52.25" fill="#000000" xml:space="preserve"><tspan x="1995.53" textLength="33.55" lengthAdjust="spacingAndGlyphs">C</tspan><tspan x="2030.5" textLength="29.57" lengthAdjust="spacingAndGlyphs">o</tspan><tspan x="2061.45" textLength="30.1" lengthAdjust="spacingAndGlyphs">n</tspan><tspan x="2093.66" textLength="26.89" lengthAdjust="spacingAndGlyphs">v</tspan><tspan x="2122.34" textLength="30.03" lengthAdjust="spacingAndGlyphs">e</tspan><tspan x="2152.99" textLength="21.27" lengthAdjust="spacingAndGlyphs">r</tspan><tspan x="2173.58" textLength="18.52" lengthAdjust="spacingAndGlyphs">t</tspan><tspan x="2193.26" textLength="30.03" lengthAdjust="spacingAndGlyphs">e</tspan><tspan x="2224" textLength="30.28" lengthAdjust="spacingAndGlyphs">d</tspan> <tspan x="2272.52" textLength="26.31" lengthAdjust="spacingAndGlyphs">F</tspan><tspan x="2301.24" textLength="11.43" lengthAdjust="spacingAndGlyphs">l</tspan><tspan x="2314.6" textLength="29.94" lengthAdjust="spacingAndGlyphs">u</tspan><tspan x="2346.35" textLength="27.76" lengthAdjust="spacingAndGlyphs">x</tspan> <tspan x="2391.95" textLength="34.59" lengthAdjust="spacingAndGlyphs">R</tspan><tspan x="2426.98" textLength="29.59" lengthAdjust="spacingAndGlyphs">P</tspan></text>
<text y="1075.3" font-size="43.54" fill="#000000" xml:space="preserve"><tspan x="2022.21" textLength="24.66" lengthAdjust="spacingAndGlyphs">P</tspan><tspan x="2046.79" textLength="19.88" lengthAdjust="spacingAndGlyphs">s</tspan><tspan x="2067.68" textLength="25.02" lengthAdjust="spacingAndGlyphs">e</tspan><tspan x="2093.57" textLength="24.95" lengthAdjust="spacingAndGlyphs">u</tspan><tspan x="2119.71" textLength="25.23" lengthAdjust="spacingAndGlyphs">d</tspan><tspan x="2146.2" textLength="24.65" lengthAdjust="spacingAndGlyphs">o</tspan><tspan x="2172.01" textLength="15.01" lengthAdjust="spacingAndGlyphs">-</tspan><tspan x="2188.97" textLength="30.3" lengthAdjust="spacingAndGlyphs">w</tspan><tspan x="2222.09" textLength="20.81" lengthAdjust="spacingAndGlyphs">a</tspan><tspan x="2247.85" textLength="22.41" lengthAdjust="spacingAndGlyphs">v</tspan><tspan x="2271.75" textLength="25.02" lengthAdjust="spacingAndGlyphs">e</tspan><tspan x="2298.07" textLength="9.52" lengthAdjust="spacingAndGlyphs">l</tspan><tspan x="2308.96" textLength="25.02" lengthAdjust="spacingAndGlyphs">e</tspan><tspan x="2334.92" textLength="25.08" lengthAdjust="spacingAndGlyphs">n</tspan><tspan x="2360.99" textLength="25.23" lengthAdjust="spacingAndGlyphs">g</tspan><tspan x="2387.39" textLength="15.44" lengthAdjust="spacingAndGlyphs">t</tspan><tspan x="2403.98" textLength="25.23" lengthAdjust="spacingAndGlyphs">h</tspan></text>
<g transform="translate(1629.3,603.5) rotate(-90)"><text y="0" font-size="43.54" fill="#008000" xml:space="preserve"><tspan x="-160.69" textLength="21.93" lengthAdjust="spacingAndGlyphs">F</tspan><tspan x="-136.76" textLength="9.52" lengthAdjust="spacingAndGlyphs">l</tspan><tspan x="-125.63" textLength="24.95" lengthAdjust="spacingAndGlyphs">u</tspan><tspan x="-99.17" textLength="23.14" lengthAdjust="spacingAndGlyphs">x</tspan> <tspan x="-60.86" textLength="24.08" lengthAdjust="spacingAndGlyphs">E</tspan><tspan x="-35.32" textLength="17.72" lengthAdjust="spacingAndGlyphs">r</tspan><tspan x="-18.92" textLength="17.72" lengthAdjust="spacingAndGlyphs">r</tspan><tspan x="-2.59" textLength="24.65" lengthAdjust="spacingAndGlyphs">o</tspan><tspan x="22.78" textLength="17.72" lengthAdjust="spacingAndGlyphs">r</tspan> <tspan x="54.2" textLength="11.78" lengthAdjust="spacingAndGlyphs">(</tspan><tspan x="69.51" textLength="25.02" lengthAdjust="spacingAndGlyphs">e</tspan><tspan x="94.71" textLength="15.01" lengthAdjust="spacingAndGlyphs">-</tspan><tspan x="109.8" textLength="14.08" lengthAdjust="spacingAndGlyphs">/</tspan><tspan x="125.03" textLength="19.88" lengthAdjust="spacingAndGlyphs">s</tspan><tspan x="148.61" textLength="11.78" lengthAdjust="spacingAndGlyphs">)</tspan></text></g>
<g transform="translate(2857,603.5) rotate(-90)"><text y="0" font-size="43.54" fill="#ff0000" xml:space="preserve"><tspan x="-103.29" textLength="21.93" lengthAdjust="spacingAndGlyphs">F</tspan><tspan x="-79.36" textLength="9.52" lengthAdjust="spacingAndGlyphs">l</tspan><tspan x="-68.22" textLength="24.95" lengthAdjust="spacingAndGlyphs">u</tspan><tspan x="-41.77" textLength="23.14" lengthAdjust="spacingAndGlyphs">x</tspan> <tspan x="-3.21" textLength="11.78" lengthAdjust="spacingAndGlyphs">(</tspan><tspan x="12.1" textLength="25.02" lengthAdjust="spacingAndGlyphs">e</tspan><tspan x="37.31" textLength="15.01" lengthAdjust="spacingAndGlyphs">-</tspan><tspan x="52.39" textLength="14.08" lengthAdjust="spacingAndGlyphs">/</tspan><tspan x="67.63" textLength="19.88" lengthAdjust="spacingAndGlyphs">s</tspan><tspan x="91.21" textLength="11.78" lengthAdjust="spacingAndGlyphs">)</tspan></text></g>
<path d="M478.6,1197.5 L478.74,1205.77 L478.87,1213.96 L479.01,1222.1 L479.14,1230.22 L479.28,1238.34 L479.41,1246.49 L479.55,1254.68 L479.69,1262.95 L479.82,1271.31 L479.96,1279.8 L480.11,1288.44 L480.25,1297.25 L480.42,1307.71 L480.59,1318.5 L480.76,1329.55 L480.94,1340.79 L481.11,1352.17 L481.29,1363.61 L481.47,1375.06 L481.65,1386.44 L481.84,1397.69 L482.02,1408.74 L482.21,1419.53 L482.4,1430 L482.57,1438.85 L482.74,1447.55 L482.92,1456.12 L483.1,1464.58 L483.28,1472.94 L483.46,1481.21 L483.64,1489.42 L483.82,1497.58 L483.99,1505.7 L484.17,1513.8 L484.34,1521.9 L484.5,1530 L484.65,1537.7 L484.8,1545.4 L484.94,1553.1 L485.07,1560.77 L485.21,1568.41 L485.35,1576 L485.48,1583.54 L485.62,1591.01 L485.76,1598.41 L485.9,1605.71 L486.05,1612.91 L486.2,1620 L486.34,1626.18 L486.47,1632.31 L486.6,1638.39 L486.73,1644.42 L486.87,1650.39 L487,1656.29 L487.15,1662.11 L487.3,1667.86 L487.46,1673.53 L487.62,1679.12 L487.81,1684.61 L488,1690 L488.17,1694.51 L488.34,1698.99 L488.5,1703.43 L488.68,1707.83 L488.85,1712.17 L489.04,1716.43 L489.24,1720.62 L489.45,1724.72 L489.68,1728.72 L489.93,1732.6 L490.2,1736.37 L490.5,1740 L490.73,1742.65 L490.97,1745.26 L491.2,1747.81 L491.45,1750.31 L491.7,1752.75 L491.96,1755.14 L492.25,1757.46 L492.55,1759.71 L492.87,1761.89 L493.22,1764.01 L493.59,1766.04 L494,1768 L494.31,1769.36 L494.62,1770.66 L494.94,1771.93 L495.27,1773.15 L495.61,1774.33 L495.97,1775.48 L496.34,1776.61 L496.73,1777.71 L497.14,1778.8 L497.57,1779.87 L498.02,1780.94 L498.5,1782 L498.96,1782.97 L499.44,1783.92 L499.94,1784.85 L500.45,1785.77 L500.97,1786.67 L501.52,1787.55 L502.08,1788.43 L502.66,1789.29 L503.27,1790.15 L503.89,1791 L504.53,1791.85 L505.2,1792.7 L505.96,1793.63 L506.76,1794.57 L507.6,1795.53 L508.46,1796.48 L509.36,1797.42 L510.26,1798.35 L511.18,1799.26 L512.1,1800.12 L513.02,1800.95 L513.93,1801.73 L514.83,1802.45 L515.7,1803.1 L516.35,1803.57 L516.98,1804.03 L517.6,1804.48 L518.2,1804.9 L518.81,1805.3 L519.43,1805.68 L520.05,1806.01 L520.68,1806.31 L521.34,1806.56 L522.03,1806.76 L522.74,1806.91 L523.5,1807 L524.61,1806.98 L525.8,1806.8 L527.05,1806.47 L528.35,1806.03 L529.69,1805.5 L531.06,1804.92 L532.44,1804.31 L533.83,1803.69 L535.22,1803.11 L536.58,1802.58 L537.91,1802.13 L539.2,1801.8 L540.32,1801.56 L541.44,1801.32 L542.55,1801.08 L543.66,1800.86 L544.75,1800.67 L545.85,1800.5 L546.94,1800.36 L548.02,1800.28 L549.09,1800.24 L550.17,1800.26 L551.24,1800.34 L552.3,1800.5 L553.41,1800.78 L554.5,1801.18 L555.59,1801.68 L556.66,1802.26 L557.73,1802.9 L558.8,1803.58 L559.87,1804.26 L560.94,1804.92 L562.01,1805.56 L563.1,1806.13 L564.19,1806.62 L565.3,1807 L566.37,1807.29 L567.45,1807.55 L568.53,1807.78 L569.62,1807.97 L570.72,1808.14 L571.82,1808.27 L572.92,1808.36 L574.02,1808.42 L575.13,1808.44 L576.22,1808.43 L577.31,1808.38 L578.4,1808.3 L579.5,1808.16 L580.6,1807.96 L581.69,1807.7 L582.79,1807.39 L583.88,1807.05 L584.97,1806.68 L586.06,1806.29 L587.15,1805.9 L588.23,1805.5 L589.32,1805.11 L590.41,1804.74 L591.5,1804.4 L592.59,1804.08 L593.67,1803.75 L594.75,1803.43 L595.84,1803.1 L596.92,1802.78 L598,1802.45 L599.08,1802.12 L600.16,1801.8 L601.25,1801.47 L602.33,1801.15 L603.41,1800.82 L604.5,1800.5 L605.59,1800.17 L606.68,1799.82 L607.77,1799.46 L608.85,1799.1 L609.94,1798.74 L611.03,1798.39 L612.12,1798.04 L613.21,1797.71 L614.31,1797.39 L615.4,1797.1 L616.5,1796.83 L617.6,1796.6 L618.69,1796.39 L619.78,1796.18 L620.89,1795.98 L622,1795.79 L623.11,1795.62 L624.22,1795.47 L625.32,1795.34 L626.42,1795.25 L627.5,1795.2 L628.57,1795.18 L629.62,1795.22 L630.65,1795.3 L631.57,1795.42 L632.49,1795.57 L633.38,1795.75 L634.27,1795.96 L635.15,1796.21 L636.02,1796.48 L636.88,1796.78 L637.74,1797.11 L638.59,1797.47 L639.43,1797.86 L640.27,1798.27 L641.1,1798.7 L642.01,1799.23 L642.91,1799.81 L643.79,1800.45 L644.66,1801.13 L645.53,1801.84 L646.39,1802.57 L647.25,1803.32 L648.1,1804.08 L648.96,1804.84 L649.82,1805.58 L650.68,1806.3 L651.55,1807 L652.42,1807.68 L653.28,1808.36 L654.14,1809.06 L655,1809.75 L655.86,1810.44 L656.73,1811.12 L657.59,1811.8 L658.46,1812.46 L659.34,1813.11 L660.22,1813.73 L661.11,1814.33 L662,1814.9 L662.85,1815.42 L663.71,1815.93 L664.57,1816.43 L665.44,1816.92 L666.31,1817.39 L667.18,1817.85 L668.06,1818.29 L668.94,1818.7 L669.83,1819.09 L670.72,1819.46 L671.61,1819.79 L672.5,1820.1 L673.35,1820.36 L674.21,1820.6 L675.07,1820.81 L675.93,1820.99 L676.8,1821.16 L677.67,1821.3 L678.54,1821.43 L679.41,1821.55 L680.28,1821.65 L681.15,1821.74 L682.03,1821.82 L682.9,1821.9 L683.77,1821.96 L684.64,1821.99 L685.52,1821.99 L686.39,1821.97 L687.27,1821.95 L688.15,1821.91 L689.03,1821.88 L689.9,1821.85 L690.78,1821.83 L691.65,1821.83 L692.53,1821.85 L693.4,1821.9 L694.27,1821.98 L695.13,1822.09 L695.98,1822.21 L696.83,1822.36 L697.68,1822.51 L698.53,1822.67 L699.38,1822.83 L700.24,1822.99 L701.11,1823.14 L701.99,1823.28 L702.89,1823.4 L703.8,1823.5 L704.84,1823.6 L705.91,1823.69 L707,1823.77 L708.11,1823.84 L709.23,1823.91 L710.35,1823.96 L711.47,1824.01 L712.59,1824.04 L713.7,1824.05 L714.79,1824.05 L715.86,1824.03 L716.9,1824 L717.8,1823.94 L718.68,1823.85 L719.54,1823.74 L720.38,1823.61 L721.21,1823.47 L722.04,1823.32 L722.88,1823.17 L723.72,1823.04 L724.58,1822.91 L725.46,1822.81 L726.36,1822.74 L727.3,1822.7 L728.49,1822.7 L729.73,1822.73 L731,1822.8 L732.29,1822.9 L733.61,1823.02 L734.95,1823.15 L736.29,1823.3 L737.65,1823.45 L739,1823.6 L740.35,1823.75 L741.68,1823.88 L743,1824 L744.31,1824.11 L745.62,1824.23 L746.92,1824.34 L748.23,1824.46 L749.54,1824.58 L750.85,1824.7 L752.16,1824.82 L753.46,1824.93 L754.77,1825.03 L756.08,1825.13 L757.39,1825.22 L758.7,1825.3 L760.01,1825.37 L761.33,1825.45 L762.66,1825.52 L763.99,1825.59 L765.32,1825.65 L766.64,1825.7 L767.96,1825.75 L769.28,1825.79 L770.58,1825.81 L771.87,1825.82 L773.14,1825.82 L774.4,1825.8 L775.53,1825.76 L776.64,1825.68 L777.74,1825.58 L778.83,1825.47 L779.9,1825.34 L780.98,1825.21 L782.05,1825.09 L783.11,1824.98 L784.18,1824.89 L785.25,1824.82 L786.32,1824.79 L787.4,1824.8 L788.49,1824.85 L789.58,1824.95 L790.67,1825.08 L791.76,1825.23 L792.86,1825.4 L793.95,1825.59 L795.04,1825.78 L796.13,1825.97 L797.22,1826.15 L798.31,1826.33 L799.41,1826.48 L800.5,1826.6 L801.58,1826.7 L802.63,1826.79 L803.67,1826.88 L804.7,1826.95 L805.73,1827.02 L806.77,1827.09 L807.82,1827.14 L808.9,1827.2 L810.01,1827.25 L811.16,1827.3 L812.35,1827.35 L813.6,1827.4 L815.46,1827.46 L817.43,1827.52 L819.5,1827.56 L821.64,1827.59 L823.84,1827.62 L826.09,1827.65 L828.37,1827.67 L830.67,1827.7 L832.97,1827.74 L835.25,1827.78 L837.5,1827.83 L839.7,1827.9 L841.85,1827.98 L843.95,1828.07 L846.02,1828.17 L848.07,1828.28 L850.12,1828.4 L852.19,1828.52 L854.29,1828.64 L856.43,1828.76 L858.64,1828.87 L860.93,1828.99 L863.31,1829.1 L865.8,1829.2 L869.53,1829.34 L873.47,1829.46 L877.61,1829.59 L881.9,1829.71 L886.32,1829.82 L890.83,1829.94 L895.4,1830.05 L900,1830.16 L904.61,1830.27 L909.18,1830.38 L913.69,1830.49 L918.1,1830.6 L922.45,1830.71 L926.8,1830.83 L931.15,1830.95 L935.5,1831.06 L939.85,1831.18 L944.2,1831.29 L948.55,1831.41 L952.9,1831.51 L957.25,1831.62 L961.6,1831.72 L965.95,1831.81 L970.3,1831.9 L974.62,1831.98 L978.9,1832.05 L983.13,1832.11 L987.35,1832.17 L991.57,1832.22 L995.81,1832.28 L1000.08,1832.33 L1004.41,1832.38 L1008.81,1832.43 L1013.29,1832.48 L1017.88,1832.54 L1022.6,1832.6 L1028.46,1832.68 L1034.39,1832.77 L1040.41,1832.86 L1046.53,1832.96 L1052.76,1833.05 L1059.09,1833.15 L1065.55,1833.25 L1072.15,1833.34 L1078.88,1833.44 L1085.76,1833.53 L1092.8,1833.62 L1100,1833.7 L1109.7,1833.8 L1119.81,1833.89 L1130.28,1833.97 L1141.05,1834.05 L1152.05,1834.13 L1163.23,1834.2 L1174.52,1834.28 L1185.88,1834.36 L1197.23,1834.44 L1208.53,1834.53 L1219.7,1834.64 L1230.7,1834.75 L1241.96,1834.89 L1253.85,1835.06 L1266.14,1835.25 L1278.64,1835.45 L1291.14,1835.66 L1303.44,1835.87 L1315.32,1836.06 L1326.58,1836.24 L1337.01,1836.39 L1346.42,1836.51 L1354.58,1836.58 L1361.3,1836.6 L1363.43,1836.6 L1365.4,1836.62 L1367.23,1836.63 L1368.92,1836.65 L1370.5,1836.66 L1371.98,1836.67 L1373.37,1836.66 L1374.7,1836.64 L1375.97,1836.59 L1377.2,1836.52 L1378.4,1836.43 L1379.6,1836.3 L1380.37,1836.2 L1381.1,1836.08 L1381.79,1835.96 L1383.1,1835.68 L1384.33,1835.37 L1385.53,1835.03 L1386.76,1834.68 L1387.4,1834.5 L1388.06,1834.31 L1388.7,1834.1 L1389.35,1833.87 L1389.99,1833.64 L1390.63,1833.4 L1391.27,1833.16 L1391.92,1832.93 L1392.57,1832.69 L1393.24,1832.47 L1393.91,1832.26 L1394.6,1832.07 L1395.3,1831.9 L1396.1,1831.73 L1396.9,1831.58 L1397.7,1831.44 L1398.51,1831.31 L1399.33,1831.2 L1400.17,1831.1 L1401.03,1831 L1401.9,1830.92 L1402.81,1830.83 L1403.74,1830.75 L1404.7,1830.68 L1405.7,1830.6 L1407.15,1830.5 L1408.63,1830.4 L1410.14,1830.32 L1411.7,1830.26 L1413.3,1830.2 L1414.97,1830.15 L1416.7,1830.11 L1418.5,1830.07 L1420.39,1830.05 L1422.36,1830.03 L1424.43,1830.01 L1426.6,1830 L1430.78,1830.01 L1435.41,1830.05 L1440.42,1830.13 L1445.75,1830.24 L1451.33,1830.37 L1457.1,1830.51 L1462.99,1830.67 L1468.94,1830.83 L1474.88,1830.99 L1480.75,1831.14 L1486.48,1831.28 L1492,1831.4 L1497.26,1831.51 L1502.46,1831.62 L1507.61,1831.72 L1512.73,1831.83 L1517.85,1831.94 L1522.97,1832.04 L1528.13,1832.14 L1533.34,1832.24 L1538.62,1832.34 L1544,1832.43 L1549.48,1832.52 L1555.1,1832.6 L1561.9,1832.69 L1568.87,1832.77 L1576,1832.85 L1583.24,1832.92 L1590.59,1832.99 L1598.01,1833.05 L1605.48,1833.11 L1612.98,1833.17 L1620.47,1833.23 L1627.94,1833.29 L1635.36,1833.34 L1642.7,1833.4 L1649.89,1833.46 L1656.92,1833.51 L1663.86,1833.57 L1670.74,1833.62 L1677.63,1833.67 L1684.56,1833.73 L1691.59,1833.77 L1698.77,1833.82 L1706.15,1833.87 L1713.78,1833.91 L1721.72,1833.96 L1730,1834 L1742.22,1834.06 L1755.14,1834.11 L1768.67,1834.15 L1782.7,1834.2 L1797.12,1834.24 L1811.81,1834.28 L1826.69,1834.32 L1841.64,1834.35 L1856.55,1834.39 L1871.32,1834.43 L1885.84,1834.46 L1900,1834.5 L1913.66,1834.54 L1927.5,1834.59 L1941.46,1834.65 L1955.46,1834.71 L1969.43,1834.77 L1983.29,1834.82 L1996.97,1834.87 L2010.39,1834.91 L2023.48,1834.93 L2036.16,1834.94 L2048.36,1834.93 L2060,1834.9 L2068.27,1834.87 L2076.32,1834.83 L2084.16,1834.79 L2091.8,1834.74 L2099.25,1834.68 L2106.54,1834.62 L2113.68,1834.55 L2120.68,1834.46 L2127.56,1834.37 L2134.33,1834.26 L2141,1834.14 L2147.6,1834 L2152.88,1833.87 L2158.02,1833.72 L2163.03,1833.55 L2167.94,1833.38 L2172.77,1833.19 L2177.54,1833 L2182.27,1832.81 L2186.97,1832.63 L2191.68,1832.45 L2196.41,1832.28 L2201.17,1832.13 L2206,1832 L2210.86,1831.89 L2215.72,1831.79 L2220.58,1831.71 L2225.43,1831.64 L2230.29,1831.57 L2235.15,1831.52 L2240.01,1831.46 L2244.86,1831.4 L2249.72,1831.34 L2254.58,1831.27 L2259.44,1831.19 L2264.3,1831.1 L2269.19,1831 L2274.13,1830.91 L2279.09,1830.82 L2284.08,1830.72 L2289.06,1830.62 L2294.02,1830.52 L2298.96,1830.4 L2303.86,1830.28 L2308.69,1830.15 L2313.45,1830 L2318.13,1829.83 L2322.7,1829.65 L2326.59,1829.47 L2330.43,1829.26 L2334.23,1829.04 L2337.98,1828.79 L2341.69,1828.54 L2345.36,1828.29 L2348.98,1828.04 L2352.57,1827.79 L2356.11,1827.56 L2359.61,1827.35 L2363.07,1827.16 L2366.5,1827 L2369.46,1826.9 L2372.37,1826.85 L2375.25,1826.83 L2378.09,1826.84 L2380.91,1826.85 L2383.69,1826.86 L2386.45,1826.86 L2389.19,1826.83 L2391.91,1826.76 L2394.62,1826.64 L2397.31,1826.46 L2400,1826.2 L2402.52,1825.88 L2405.04,1825.49 L2407.54,1825.05 L2410.03,1824.56 L2412.5,1824.04 L2414.95,1823.49 L2417.38,1822.93 L2419.79,1822.37 L2422.18,1821.81 L2424.55,1821.28 L2426.89,1820.77 L2429.2,1820.3 L2431.23,1819.93 L2433.24,1819.59 L2435.22,1819.29 L2437.19,1819 L2439.13,1818.72 L2441.06,1818.44 L2442.98,1818.14 L2444.89,1817.81 L2446.79,1817.44 L2448.69,1817.02 L2450.59,1816.55 L2452.5,1816 L2454.49,1815.36 L2456.48,1814.68 L2458.47,1813.95 L2460.47,1813.17 L2462.45,1812.36 L2464.43,1811.5 L2466.39,1810.61 L2468.34,1809.68 L2470.27,1808.73 L2472.17,1807.74 L2474.05,1806.73 L2475.9,1805.7 L2477.7,1804.6 L2479.48,1803.4 L2481.24,1802.12 L2482.97,1800.78 L2484.69,1799.41 L2486.39,1798.04 L2488.07,1796.69 L2489.74,1795.38 L2491.4,1794.14 L2493.04,1793 L2494.67,1791.98 L2496.3,1791.1 L2497.58,1790.55 L2498.9,1790.11 L2500.23,1789.76 L2501.56,1789.48 L2502.89,1789.24 L2504.2,1789.03 L2505.47,1788.8 L2506.7,1788.55 L2507.87,1788.24 L2508.97,1787.85 L2509.98,1787.36 L2510.9,1786.75 L2511.62,1786.12 L2512.26,1785.45 L2512.83,1784.74 L2513.34,1783.98 L2513.81,1783.18 L2514.24,1782.34 L2514.65,1781.46 L2515.05,1780.54 L2515.45,1779.59 L2515.86,1778.59 L2516.29,1777.56 L2516.75,1776.5 L2517.48,1774.75 L2518.21,1772.83 L2518.93,1770.76 L2519.64,1768.58 L2520.36,1766.3 L2521.07,1763.97 L2521.79,1761.61 L2522.51,1759.24 L2523.24,1756.9 L2523.98,1754.61 L2524.73,1752.4 L2525.5,1750.3 L2526.19,1748.47 L2526.88,1746.65 L2527.56,1744.84 L2528.25,1743.04 L2528.94,1741.26 L2529.64,1739.51 L2530.36,1737.79 L2531.09,1736.1 L2531.85,1734.46 L2532.64,1732.85 L2533.45,1731.3 L2534.3,1729.8 L2535.05,1728.54 L2535.8,1727.3 L2536.56,1726.09 L2537.33,1724.9 L2538.11,1723.74 L2538.92,1722.61 L2539.75,1721.52 L2540.62,1720.47 L2541.52,1719.46 L2542.47,1718.49 L2543.46,1717.57 L2544.5,1716.7 L2545.67,1715.9 L2546.96,1715.23 L2548.34,1714.66 L2549.79,1714.16 L2551.28,1713.7 L2552.78,1713.26 L2554.27,1712.81 L2555.71,1712.32 L2557.08,1711.76 L2558.35,1711.1 L2559.5,1710.33 L2560.5,1709.4 L2561.37,1708.31 L2562.12,1707.13 L2562.77,1705.85 L2563.33,1704.5 L2563.82,1703.08 L2564.25,1701.59 L2564.63,1700.06 L2564.99,1698.48 L2565.33,1696.86 L2565.67,1695.22 L2566.02,1693.56 L2566.4,1691.9 L2566.89,1689.75 L2567.34,1687.52 L2567.75,1685.22 L2568.14,1682.85 L2568.5,1680.43 L2568.85,1677.96 L2569.18,1675.46 L2569.49,1672.93 L2569.81,1670.38 L2570.12,1667.82 L2570.43,1665.25 L2570.75,1662.7 L2571.1,1659.9 L2571.44,1657.07 L2571.77,1654.21 L2572.09,1651.33 L2572.41,1648.42 L2572.71,1645.49 L2573.02,1642.55 L2573.32,1639.6 L2573.61,1636.63 L2573.91,1633.66 L2574.2,1630.68 L2574.5,1627.7 L2574.8,1624.6 L2575.1,1621.49 L2575.39,1618.37 L2575.68,1615.25 L2575.96,1612.12 L2576.24,1608.97 L2576.52,1605.8 L2576.81,1602.62 L2577.09,1599.43 L2577.39,1596.21 L2577.69,1592.97 L2578,1589.7 L2578.34,1586.16 L2578.69,1582.58 L2579.05,1578.97 L2579.42,1575.33 L2579.79,1571.67 L2580.16,1567.99 L2580.53,1564.3 L2580.91,1560.61 L2581.28,1556.92 L2581.66,1553.23 L2582.03,1549.56 L2582.4,1545.9 L2582.76,1542.23 L2583.12,1538.51 L2583.47,1534.76 L2583.83,1531 L2584.18,1527.24 L2584.53,1523.49 L2584.89,1519.78 L2585.25,1516.11 L2585.63,1512.5 L2586.01,1508.97 L2586.4,1505.53 L2586.8,1502.2 L2587.14,1499.53 L2587.48,1496.9 L2587.82,1494.3 L2588.16,1491.74 L2588.51,1489.22 L2588.87,1486.75 L2589.23,1484.32 L2589.6,1481.95 L2589.99,1479.62 L2590.38,1477.35 L2590.78,1475.15 L2591.2,1473 L2591.54,1471.38 L2591.88,1469.81 L2592.24,1468.3 L2592.6,1466.82 L2592.97,1465.38 L2593.35,1463.96 L2593.72,1462.56 L2594.1,1461.16 L2594.48,1459.77 L2594.86,1458.36 L2595.23,1456.94 L2595.6,1455.5" fill="none" stroke="#008000" stroke-width="6.25" stroke-linejoin="round" stroke-dasharray="23.125 10" stroke-linecap="butt" clip-path="url(#cB)"/>
<rect x="2320.16" y="1772.57" width="359.01" height="75.6" rx="8.33" ry="8.33" fill="#ffffff" fill-opacity="0.8" stroke="#cccccc" stroke-opacity="0.8" stroke-width="4.1667"/><path d="M2336.83,1807.47 H2420.16" stroke="#008000" stroke-width="6.25" stroke-dasharray="23.125 10" fill="none"/><text y="1821.47" font-size="43.54" fill="#000000" xml:space="preserve"><tspan x="2454.59" textLength="21.93" lengthAdjust="spacingAndGlyphs">F</tspan><tspan x="2478.52" textLength="9.52" lengthAdjust="spacingAndGlyphs">l</tspan><tspan x="2489.66" textLength="24.95" lengthAdjust="spacingAndGlyphs">u</tspan><tspan x="2516.11" textLength="23.14" lengthAdjust="spacingAndGlyphs">x</tspan><tspan x="2540.24" textLength="20.69" lengthAdjust="spacingAndGlyphs">_</tspan><tspan x="2562.02" textLength="24.08" lengthAdjust="spacingAndGlyphs">E</tspan><tspan x="2587.55" textLength="17.72" lengthAdjust="spacingAndGlyphs">r</tspan><tspan x="2603.95" textLength="17.72" lengthAdjust="spacingAndGlyphs">r</tspan><tspan x="2620.28" textLength="24.65" lengthAdjust="spacingAndGlyphs">o</tspan><tspan x="2645.66" textLength="17.72" lengthAdjust="spacingAndGlyphs">r</tspan></text>
<path d="M480.4,1586 L480.42,1577.21 L480.45,1568.5 L480.47,1559.84 L480.49,1551.2 L480.51,1542.56 L480.53,1533.9 L480.55,1525.18 L480.57,1516.4 L480.6,1507.51 L480.63,1498.5 L480.66,1489.34 L480.7,1480 L480.75,1469.04 L480.8,1457.78 L480.85,1446.28 L480.91,1434.59 L480.97,1422.78 L481.03,1410.89 L481.1,1398.98 L481.17,1387.1 L481.24,1375.31 L481.32,1363.66 L481.41,1352.2 L481.5,1341 L481.58,1330.71 L481.66,1320.13 L481.74,1309.39 L481.81,1298.59 L481.9,1287.87 L481.98,1277.34 L482.08,1267.12 L482.19,1257.35 L482.31,1248.12 L482.45,1239.58 L482.62,1231.83 L482.8,1225 L482.9,1221.87 L483,1218.68 L483.11,1215.5 L483.21,1212.39 L483.33,1209.41 L483.44,1206.63 L483.56,1204.1 L483.69,1201.89 L483.81,1200.06 L483.94,1198.68 L484.07,1197.81 L484.51,1198.98 L484.68,1200.71 L484.85,1202.99 L485.03,1205.73 L485.2,1208.86 L485.38,1212.28 L485.55,1215.93 L485.73,1219.7 L485.89,1223.53 L486.05,1227.32 L486.2,1231 L486.45,1237.89 L486.68,1245.54 L486.9,1253.84 L487.1,1262.68 L487.29,1271.96 L487.47,1281.56 L487.65,1291.38 L487.82,1301.31 L487.99,1311.25 L488.15,1321.08 L488.32,1330.7 L488.5,1340 L488.68,1349.15 L488.86,1358.3 L489.03,1367.46 L489.21,1376.63 L489.38,1385.8 L489.55,1394.97 L489.72,1404.14 L489.88,1413.31 L490.04,1422.49 L490.2,1431.66 L490.35,1440.83 L490.5,1450 L490.64,1459.15 L490.77,1468.28 L490.89,1477.39 L491.01,1486.49 L491.13,1495.59 L491.24,1504.7 L491.35,1513.83 L491.47,1522.98 L491.59,1532.16 L491.72,1541.39 L491.85,1550.67 L492,1560 L492.16,1569.85 L492.33,1579.82 L492.51,1589.89 L492.69,1600.02 L492.88,1610.18 L493.07,1620.36 L493.27,1630.51 L493.47,1640.62 L493.68,1650.65 L493.88,1660.57 L494.09,1670.37 L494.3,1680 L494.49,1688.75 L494.69,1697.55 L494.89,1706.36 L495.09,1715.14 L495.29,1723.86 L495.5,1732.48 L495.71,1740.96 L495.92,1749.27 L496.14,1757.36 L496.36,1765.21 L496.58,1772.77 L496.8,1780 L496.97,1785.42 L497.13,1791.21 L497.3,1797.19 L497.46,1803.22 L497.63,1809.14 L497.8,1814.78 L497.97,1819.99 L498.15,1824.61 L498.33,1828.48 L498.51,1831.44 L498.7,1833.33 L498.9,1834 L499.23,1832.38 L499.4,1830.51 L499.58,1828.06 L499.76,1825.14 L499.94,1821.85 L500.12,1818.29 L500.3,1814.57 L500.48,1810.77 L500.66,1807.01 L500.83,1803.39 L501,1800 L501.21,1795.55 L501.42,1790.84 L501.62,1785.91 L501.82,1780.81 L502.01,1775.59 L502.2,1770.3 L502.39,1765 L502.58,1759.73 L502.78,1754.54 L502.98,1749.49 L503.19,1744.63 L503.4,1740 L503.58,1736.43 L503.77,1733.03 L503.97,1729.76 L504.17,1726.58 L504.37,1723.46 L504.57,1720.36 L504.77,1717.24 L504.97,1714.06 L505.16,1710.79 L505.35,1707.38 L505.53,1703.79 L505.7,1700 L505.93,1694.24 L506.13,1688.09 L506.33,1681.61 L506.51,1674.88 L506.68,1667.95 L506.84,1660.9 L507.01,1653.78 L507.17,1646.66 L507.34,1639.61 L507.52,1632.69 L507.7,1625.96 L507.9,1619.5 L508.07,1613.86 L508.23,1608.18 L508.38,1602.48 L508.53,1596.8 L508.69,1591.18 L508.85,1585.64 L509.02,1580.22 L509.21,1574.94 L509.43,1569.85 L509.68,1564.98 L509.97,1560.35 L510.3,1556 L510.54,1553.12 L510.8,1550.1 L511.08,1547 L511.37,1543.91 L511.67,1540.9 L511.98,1538.04 L512.3,1535.42 L512.62,1533.1 L512.94,1531.16 L513.26,1529.68 L513.58,1528.74 L514.4,1529.11 L514.66,1529.94 L514.92,1531.04 L515.19,1532.37 L515.45,1533.89 L515.71,1535.56 L515.97,1537.34 L516.21,1539.19 L516.45,1541.08 L516.68,1542.96 L516.9,1544.8 L517.27,1548.44 L517.6,1552.5 L517.89,1556.93 L518.15,1561.68 L518.38,1566.68 L518.6,1571.89 L518.81,1577.25 L519.01,1582.72 L519.21,1588.23 L519.42,1593.73 L519.65,1599.17 L519.9,1604.5 L520.19,1610.49 L520.48,1616.69 L520.77,1623.03 L521.06,1629.49 L521.35,1636 L521.65,1642.52 L521.95,1649 L522.26,1655.4 L522.58,1661.67 L522.91,1667.76 L523.25,1673.62 L523.6,1679.2 L523.87,1683.44 L524.14,1687.71 L524.41,1691.98 L524.68,1696.2 L524.95,1700.35 L525.23,1704.38 L525.53,1708.25 L525.84,1711.93 L526.17,1715.39 L526.52,1718.58 L526.89,1721.46 L527.3,1724 L527.5,1725.13 L527.72,1726.27 L527.94,1727.4 L528.16,1728.51 L528.39,1729.56 L528.62,1730.54 L528.86,1731.42 L529.09,1732.19 L529.32,1732.83 L529.78,1733.6 L530.57,1732.89 L530.86,1731.96 L531.15,1730.74 L531.43,1729.29 L531.71,1727.65 L531.98,1725.87 L532.26,1724 L532.53,1722.07 L532.79,1720.15 L533.05,1718.28 L533.3,1716.5 L533.65,1713.88 L533.99,1711.07 L534.31,1708.09 L534.61,1704.98 L534.91,1701.77 L535.2,1698.49 L535.49,1695.18 L535.77,1691.86 L536.07,1688.57 L536.37,1685.34 L536.68,1682.21 L537,1679.2 L537.29,1676.53 L537.55,1673.81 L537.81,1671.06 L538.07,1668.31 L538.32,1665.58 L538.59,1662.9 L538.87,1660.3 L539.18,1657.79 L539.52,1655.41 L539.9,1653.19 L540.32,1651.14 L540.8,1649.3 L541.1,1648.29 L541.42,1647.26 L541.76,1646.23 L542.11,1645.22 L542.47,1644.25 L542.83,1643.35 L543.21,1642.52 L543.58,1641.81 L543.95,1641.21 L544.31,1640.77 L545,1640.4 L545.69,1640.94 L546.02,1641.54 L546.34,1642.33 L546.66,1643.25 L546.98,1644.28 L547.3,1645.38 L547.63,1646.53 L547.96,1647.67 L548.29,1648.79 L548.64,1649.85 L549,1650.8 L549.39,1651.8 L549.77,1652.86 L550.15,1653.96 L550.53,1655.08 L550.92,1656.21 L551.31,1657.32 L551.73,1658.41 L552.16,1659.45 L552.62,1660.42 L553.11,1661.32 L553.63,1662.12 L554.2,1662.8 L554.63,1663.23 L555.07,1663.63 L555.54,1664.01 L556.01,1664.35 L557,1664.94 L558.03,1665.39 L559.1,1665.68 L560.2,1665.8 L561.63,1665.7 L562.4,1665.55 L563.19,1665.34 L563.99,1665.08 L564.8,1664.76 L565.61,1664.39 L566.39,1663.99 L567.16,1663.54 L567.88,1663.05 L568.57,1662.54 L569.2,1662 L569.86,1661.34 L570.46,1660.6 L571.03,1659.81 L571.55,1658.96 L572.04,1658.06 L572.51,1657.11 L572.96,1656.13 L573.39,1655.11 L573.81,1654.06 L574.24,1652.99 L574.66,1651.9 L575.1,1650.8 L575.66,1649.27 L576.17,1647.59 L576.65,1645.8 L577.11,1643.92 L577.55,1642 L577.99,1640.06 L578.44,1638.14 L578.9,1636.26 L579.39,1634.47 L579.91,1632.79 L580.48,1631.25 L581.1,1629.9 L581.54,1629.06 L582.01,1628.2 L582.49,1627.34 L582.98,1626.5 L583.49,1625.7 L584,1624.95 L584.52,1624.27 L585.05,1623.68 L585.57,1623.19 L586.09,1622.81 L587.1,1622.5 L588.1,1622.85 L588.61,1623.25 L589.12,1623.78 L589.63,1624.41 L590.14,1625.12 L590.64,1625.89 L591.13,1626.7 L591.62,1627.52 L592.09,1628.35 L592.55,1629.15 L593,1629.9 L593.49,1630.81 L593.95,1631.82 L594.38,1632.89 L594.78,1634.02 L595.17,1635.18 L595.56,1636.33 L595.96,1637.46 L596.36,1638.54 L596.79,1639.55 L597.25,1640.46 L597.75,1641.25 L598.3,1641.9 L599.09,1642.55 L599.94,1643.05 L600.83,1643.43 L601.73,1643.71 L602.63,1643.92 L603.5,1644.1 L604.27,1644.14 L605.06,1644.04 L605.85,1643.88 L606.61,1643.77 L607.67,1643.92 L608.52,1644.58 L609,1645.24 L609.44,1646.05 L609.84,1647 L610.22,1648.05 L610.57,1649.2 L610.9,1650.42 L611.22,1651.68 L611.54,1652.97 L611.85,1654.27 L612.17,1655.55 L612.5,1656.8 L612.93,1658.43 L613.34,1660.12 L613.74,1661.88 L614.13,1663.7 L614.51,1665.56 L614.87,1667.45 L615.23,1669.38 L615.59,1671.33 L615.94,1673.29 L616.29,1675.27 L616.65,1677.24 L617,1679.2 L617.38,1681.42 L617.74,1683.77 L618.09,1686.21 L618.42,1688.71 L618.76,1691.23 L619.1,1693.73 L619.44,1696.17 L619.79,1698.51 L620.16,1700.71 L620.55,1702.73 L620.96,1704.54 L621.4,1706.1 L621.63,1706.81 L621.87,1707.53 L622.11,1708.23 L622.36,1708.92 L622.62,1709.57 L622.87,1710.18 L623.13,1710.72 L623.65,1711.58 L624.15,1712.05 L625.04,1711.62 L625.36,1711.08 L625.68,1710.38 L626,1709.53 L626.32,1708.56 L626.63,1707.5 L626.94,1706.37 L627.24,1705.19 L627.54,1703.99 L627.82,1702.78 L628.1,1701.6 L628.58,1699.29 L629.02,1696.68 L629.42,1693.82 L629.8,1690.74 L630.16,1687.5 L630.5,1684.15 L630.84,1680.73 L631.17,1677.29 L631.51,1673.88 L631.85,1670.54 L632.22,1667.34 L632.6,1664.3 L632.95,1661.59 L633.28,1658.75 L633.59,1655.84 L633.91,1652.91 L634.23,1649.99 L634.56,1647.15 L634.9,1644.44 L635.27,1641.89 L635.67,1639.56 L636.1,1637.51 L636.58,1635.77 L637.1,1634.4 L637.52,1633.57 L637.98,1632.82 L638.45,1632.19 L638.92,1631.72 L639.59,1631.39 L640.44,1631.96 L640.74,1632.51 L641.03,1633.22 L641.31,1634.07 L641.58,1635.02 L641.84,1636.07 L642.1,1637.18 L642.35,1638.35 L642.6,1639.53 L642.85,1640.73 L643.1,1641.9 L643.54,1644.2 L643.96,1646.8 L644.35,1649.65 L644.71,1652.7 L645.07,1655.92 L645.41,1659.25 L645.76,1662.65 L646.1,1666.09 L646.45,1669.5 L646.81,1672.86 L647.19,1676.1 L647.6,1679.2 L648,1682.08 L648.39,1685.03 L648.8,1688.02 L649.21,1691.02 L649.62,1694.01 L650.04,1696.96 L650.48,1699.84 L650.92,1702.61 L651.37,1705.25 L651.83,1707.73 L652.31,1710.02 L652.8,1712.1 L653.09,1713.25 L653.38,1714.43 L653.68,1715.62 L653.98,1716.79 L654.29,1717.92 L654.59,1718.98 L654.91,1719.94 L655.22,1720.79 L655.54,1721.49 L655.86,1722.03 L656.5,1722.5 L657.13,1722.13 L657.78,1721.08 L658.11,1720.36 L658.44,1719.54 L658.77,1718.63 L659.09,1717.66 L659.41,1716.65 L659.72,1715.63 L660.02,1714.6 L660.3,1713.6 L660.77,1711.74 L661.19,1709.66 L661.59,1707.4 L661.95,1704.97 L662.3,1702.42 L662.63,1699.78 L662.95,1697.07 L663.28,1694.33 L663.61,1691.59 L663.95,1688.89 L664.31,1686.25 L664.7,1683.7 L665.09,1681.17 L665.47,1678.57 L665.85,1675.92 L666.22,1673.26 L666.59,1670.59 L666.98,1667.95 L667.39,1665.35 L667.83,1662.82 L668.3,1660.38 L668.82,1658.05 L669.38,1655.85 L670,1653.8 L670.47,1652.39 L670.96,1650.94 L671.48,1649.47 L672.01,1648.02 L672.57,1646.61 L673.13,1645.27 L673.71,1644.04 L674.3,1642.93 L674.9,1641.99 L675.5,1641.23 L676.1,1640.69 L676.7,1640.4 L677.81,1640.55 L678.56,1641.03 L679.32,1641.69 L680.08,1642.41 L680.83,1643.1 L681.58,1643.71 L682.32,1644.48 L683.05,1645.32 L683.78,1646.11 L684.51,1646.74 L685.24,1647.08 L686.05,1646.99 L686.97,1646.41 L687.43,1645.96 L687.89,1645.43 L688.35,1644.83 L688.81,1644.17 L689.25,1643.46 L689.69,1642.71 L690.11,1641.95 L690.51,1641.17 L690.9,1640.4 L691.47,1639.11 L691.99,1637.68 L692.48,1636.12 L692.92,1634.47 L693.34,1632.72 L693.74,1630.91 L694.13,1629.04 L694.51,1627.13 L694.89,1625.21 L695.27,1623.29 L695.68,1621.38 L696.1,1619.5 L696.6,1617.35 L697.09,1615.12 L697.59,1612.83 L698.1,1610.49 L698.6,1608.13 L699.1,1605.76 L699.6,1603.41 L700.11,1601.1 L700.61,1598.84 L701.11,1596.66 L701.61,1594.57 L702.1,1592.6 L702.46,1591.16 L702.8,1589.73 L703.12,1588.3 L703.44,1586.9 L703.76,1585.52 L704.08,1584.19 L704.42,1582.91 L704.77,1581.7 L705.15,1580.56 L705.56,1579.51 L706.01,1578.55 L706.5,1577.7 L706.83,1577.21 L707.17,1576.73 L707.53,1576.25 L707.9,1575.8 L708.29,1575.37 L709.07,1574.64 L709.85,1574.12 L710.63,1573.89 L711.51,1574.09 L712.02,1574.49 L712.53,1575.07 L713.04,1575.79 L713.54,1576.64 L714.05,1577.58 L714.55,1578.58 L715.04,1579.62 L715.54,1580.67 L716.03,1581.71 L716.52,1582.69 L717,1583.6 L717.51,1584.57 L718.02,1585.61 L718.51,1586.7 L718.99,1587.82 L719.47,1588.94 L719.95,1590.06 L720.43,1591.15 L720.92,1592.2 L721.42,1593.19 L721.93,1594.1 L722.46,1594.91 L723,1595.6 L723.72,1596.41 L724.46,1597.18 L725.21,1597.85 L725.97,1598.36 L726.74,1598.63 L728.24,1598.16 L728.96,1597.29 L729.69,1596.06 L730.42,1594.53 L731.15,1592.79 L731.88,1590.89 L732.62,1588.9 L733.38,1586.91 L734.15,1584.97 L734.95,1583.16 L735.76,1581.55 L736.6,1580.2 L737.27,1579.26 L737.96,1578.28 L738.66,1577.29 L739.39,1576.3 L740.12,1575.35 L740.85,1574.45 L741.59,1573.64 L742.32,1572.94 L743.04,1572.37 L743.75,1571.95 L744.44,1571.72 L745.86,1571.96 L746.61,1572.52 L747.35,1573.34 L748.07,1574.38 L748.78,1575.61 L749.48,1576.98 L750.16,1578.47 L750.83,1580.03 L751.48,1581.63 L752.12,1583.23 L752.74,1584.8 L753.35,1586.3 L754.1,1588.28 L754.8,1590.42 L755.46,1592.7 L756.08,1595.06 L756.67,1597.5 L757.25,1599.97 L757.83,1602.44 L758.41,1604.89 L759.01,1607.28 L759.63,1609.58 L760.29,1611.77 L761,1613.8 L761.58,1615.39 L762.19,1617.09 L762.8,1618.85 L763.43,1620.61 L764.07,1622.34 L764.71,1623.99 L765.36,1625.51 L766.01,1626.86 L766.67,1627.99 L767.32,1628.85 L767.96,1629.41 L768.6,1629.6 L769.24,1629.41 L769.89,1628.88 L770.55,1628.05 L771.21,1626.95 L771.87,1625.64 L772.52,1624.15 L773.17,1622.52 L773.81,1620.8 L774.44,1619.02 L775.05,1617.23 L775.63,1615.48 L776.2,1613.8 L776.97,1611.29 L777.69,1608.57 L778.36,1605.65 L778.99,1602.58 L779.59,1599.41 L780.18,1596.16 L780.75,1592.87 L781.32,1589.58 L781.91,1586.34 L782.51,1583.16 L783.13,1580.11 L783.8,1577.2 L784.39,1574.7 L784.98,1572.15 L785.55,1569.56 L786.13,1566.97 L786.72,1564.42 L787.32,1561.92 L787.93,1559.51 L788.57,1557.22 L789.25,1555.07 L789.95,1553.1 L790.7,1551.33 L791.5,1549.8 L791.96,1549.03 L792.44,1548.26 L792.94,1547.51 L793.44,1546.79 L793.96,1546.12 L794.48,1545.5 L795,1544.96 L795.53,1544.49 L796.06,1544.12 L797.09,1543.71 L798.24,1543.92 L798.86,1544.42 L799.46,1545.16 L800.07,1546.09 L800.67,1547.17 L801.27,1548.38 L801.88,1549.66 L802.5,1550.99 L803.14,1552.31 L803.8,1553.6 L804.48,1554.81 L805.2,1555.9 L806.04,1557.13 L806.94,1558.51 L807.87,1559.99 L808.83,1561.52 L809.82,1563.05 L810.81,1564.54 L811.81,1565.92 L812.8,1567.16 L813.78,1568.19 L814.72,1568.98 L815.63,1569.46 L816.5,1569.6 L817.29,1569.4 L818.08,1568.92 L818.85,1568.2 L819.6,1567.27 L820.34,1566.16 L821.06,1564.89 L821.77,1563.51 L822.45,1562.04 L823.12,1560.51 L823.77,1558.96 L824.4,1557.41 L825,1555.9 L825.86,1553.5 L826.63,1550.86 L827.34,1548 L827.98,1544.98 L828.59,1541.82 L829.16,1538.57 L829.71,1535.27 L830.25,1531.95 L830.8,1528.65 L831.37,1525.42 L831.96,1522.29 L832.6,1519.3 L833.19,1516.59 L833.74,1513.82 L834.27,1511.01 L834.79,1508.19 L835.31,1505.39 L835.85,1502.63 L836.42,1499.96 L837.04,1497.4 L837.71,1494.97 L838.45,1492.71 L839.28,1490.64 L840.2,1488.8 L840.85,1487.68 L841.56,1486.55 L842.3,1485.43 L843.08,1484.35 L843.88,1483.32 L844.7,1482.37 L845.52,1481.52 L846.34,1480.8 L847.14,1480.22 L847.93,1479.82 L848.68,1479.6 L850.25,1479.95 L851.08,1480.68 L851.87,1481.74 L852.64,1483.09 L853.39,1484.66 L854.13,1486.42 L854.86,1488.3 L855.58,1490.26 L856.3,1492.25 L857.02,1494.22 L857.76,1496.12 L858.5,1497.9 L859.39,1500.03 L860.26,1502.32 L861.11,1504.72 L861.96,1507.2 L862.8,1509.72 L863.65,1512.25 L864.51,1514.75 L865.38,1517.17 L866.29,1519.48 L867.22,1521.65 L868.19,1523.64 L869.2,1525.4 L869.91,1526.52 L870.64,1527.66 L871.39,1528.8 L872.16,1529.92 L872.94,1530.99 L873.72,1531.98 L874.51,1532.88 L875.29,1533.65 L876.07,1534.29 L876.85,1534.76 L877.61,1535.04 L878.35,1535.1 L879.15,1534.91 L879.94,1534.45 L880.73,1533.77 L881.51,1532.89 L882.29,1531.84 L883.06,1530.65 L883.83,1529.36 L884.58,1527.98 L885.33,1526.56 L886.06,1525.12 L886.79,1523.69 L887.5,1522.3 L888.48,1520.22 L889.41,1517.92 L890.29,1515.42 L891.15,1512.78 L891.98,1510.04 L892.81,1507.24 L893.64,1504.44 L894.48,1501.67 L895.34,1498.97 L896.25,1496.4 L897.19,1493.99 L898.2,1491.8 L899.01,1490.16 L899.84,1488.43 L900.68,1486.67 L901.55,1484.92 L902.43,1483.21 L903.32,1481.59 L904.22,1480.09 L905.13,1478.77 L906.04,1477.66 L906.96,1476.8 L907.88,1476.23 L908.8,1476 L909.68,1476.11 L910.58,1476.51 L911.49,1477.17 L912.43,1478.05 L913.36,1479.11 L914.3,1480.33 L915.22,1481.66 L916.13,1483.07 L917.02,1484.52 L917.89,1485.98 L918.71,1487.42 L919.5,1488.8 L920.45,1490.59 L921.33,1492.5 L922.16,1494.53 L922.95,1496.64 L923.7,1498.84 L924.42,1501.08 L925.13,1503.37 L925.83,1505.67 L926.53,1507.97 L927.23,1510.26 L927.95,1512.51 L928.7,1514.7 L929.45,1516.91 L930.16,1519.19 L930.86,1521.52 L931.55,1523.88 L932.24,1526.24 L932.94,1528.58 L933.66,1530.86 L934.4,1533.07 L935.17,1535.17 L935.99,1537.14 L936.87,1538.96 L937.8,1540.6 L938.49,1541.68 L939.2,1542.77 L939.95,1543.86 L940.72,1544.92 L941.5,1545.93 L942.3,1546.87 L943.1,1547.72 L943.9,1548.45 L944.7,1549.05 L945.48,1549.49 L946.25,1549.74 L947,1549.8 L947.79,1549.6 L948.57,1549.15 L949.33,1548.48 L950.09,1547.61 L950.84,1546.58 L951.59,1545.43 L952.34,1544.18 L953.08,1542.86 L953.83,1541.52 L954.58,1540.17 L955.34,1538.85 L956.1,1537.6 L957.09,1535.93 L958.07,1534.1 L959.04,1532.14 L960.01,1530.1 L960.98,1528 L961.95,1525.88 L962.94,1523.78 L963.95,1521.72 L964.99,1519.75 L966.05,1517.9 L967.16,1516.21 L968.3,1514.7 L969.2,1513.63 L970.12,1512.54 L971.07,1511.46 L972.04,1510.4 L973.02,1509.39 L974.01,1508.45 L975,1507.61 L976,1506.87 L976.99,1506.27 L977.98,1505.83 L978.95,1505.57 L979.9,1505.5 L980.87,1505.65 L981.85,1506.01 L982.84,1506.56 L983.82,1507.27 L984.8,1508.12 L985.78,1509.09 L986.74,1510.16 L987.68,1511.3 L988.6,1512.5 L989.5,1513.73 L990.37,1514.97 L991.2,1516.2 L992.28,1517.97 L993.29,1519.91 L994.23,1522 L995.12,1524.22 L995.98,1526.54 L996.8,1528.94 L997.61,1531.4 L998.41,1533.89 L999.22,1536.39 L1000.04,1538.87 L1000.9,1541.32 L1001.8,1543.7 L1002.77,1546.25 L1003.73,1548.92 L1004.68,1551.68 L1005.64,1554.49 L1006.6,1557.31 L1007.58,1560.09 L1008.57,1562.82 L1009.59,1565.44 L1010.64,1567.91 L1011.72,1570.21 L1012.84,1572.28 L1014,1574.1 L1014.76,1575.16 L1015.54,1576.23 L1016.34,1577.27 L1017.15,1578.28 L1017.97,1579.22 L1018.81,1580.1 L1019.64,1580.88 L1020.48,1581.54 L1021.32,1582.08 L1022.15,1582.46 L1022.98,1582.67 L1023.8,1582.7 L1024.78,1582.46 L1025.75,1581.93 L1026.73,1581.14 L1027.71,1580.13 L1028.69,1578.94 L1029.67,1577.58 L1030.64,1576.11 L1031.61,1574.54 L1032.57,1572.91 L1033.52,1571.26 L1034.47,1569.61 L1035.4,1568 L1036.73,1565.58 L1038.04,1562.92 L1039.31,1560.07 L1040.58,1557.06 L1041.82,1553.92 L1043.06,1550.7 L1044.3,1547.42 L1045.53,1544.12 L1046.78,1540.85 L1048.03,1537.63 L1049.31,1534.5 L1050.6,1531.5 L1051.83,1528.68 L1053.05,1525.77 L1054.27,1522.82 L1055.49,1519.84 L1056.72,1516.89 L1057.95,1513.99 L1059.21,1511.17 L1060.48,1508.47 L1061.78,1505.92 L1063.12,1503.55 L1064.49,1501.4 L1065.9,1499.5 L1066.85,1498.36 L1067.81,1497.24 L1068.79,1496.17 L1069.78,1495.15 L1070.78,1494.19 L1071.8,1493.32 L1072.82,1492.52 L1073.85,1491.83 L1074.88,1491.25 L1075.92,1490.8 L1076.96,1490.47 L1078,1490.3 L1078.99,1490.29 L1079.99,1490.43 L1080.99,1490.7 L1082,1491.1 L1083.02,1491.59 L1084.04,1492.16 L1085.06,1492.81 L1086.09,1493.5 L1087.12,1494.22 L1088.14,1494.95 L1089.17,1495.69 L1090.2,1496.4 L1091.45,1497.33 L1092.7,1498.38 L1093.93,1499.53 L1095.17,1500.76 L1096.4,1502.03 L1097.65,1503.33 L1098.9,1504.62 L1100.17,1505.88 L1101.46,1507.08 L1102.78,1508.2 L1104.12,1509.22 L1105.5,1510.1 L1106.81,1510.84 L1108.16,1511.55 L1109.52,1512.22 L1110.92,1512.86 L1112.33,1513.44 L1113.75,1513.97 L1115.18,1514.44 L1116.61,1514.84 L1118.05,1515.16 L1119.47,1515.4 L1120.89,1515.55 L1122.3,1515.6 L1123.69,1515.53 L1125.08,1515.35 L1126.47,1515.06 L1127.86,1514.68 L1129.25,1514.23 L1130.64,1513.71 L1132.03,1513.15 L1133.42,1512.55 L1134.81,1511.93 L1136.2,1511.31 L1137.6,1510.69 L1139,1510.1 L1140.51,1509.45 L1142.03,1508.74 L1143.54,1507.99 L1145.06,1507.2 L1146.58,1506.4 L1148.1,1505.58 L1149.62,1504.76 L1151.15,1503.94 L1152.68,1503.15 L1154.21,1502.39 L1155.75,1501.67 L1157.3,1501 L1158.81,1500.39 L1160.33,1499.79 L1161.85,1499.2 L1163.38,1498.64 L1164.91,1498.09 L1166.44,1497.56 L1167.98,1497.05 L1169.51,1496.57 L1171.04,1496.11 L1172.57,1495.68 L1174.09,1495.28 L1175.6,1494.9 L1177.01,1494.56 L1178.41,1494.22 L1179.8,1493.89 L1181.18,1493.57 L1182.57,1493.28 L1183.95,1493.01 L1185.34,1492.78 L1186.73,1492.59 L1188.13,1492.45 L1189.54,1492.37 L1190.96,1492.35 L1192.4,1492.4 L1194.01,1492.54 L1195.64,1492.77 L1197.29,1493.07 L1198.96,1493.44 L1200.63,1493.86 L1202.31,1494.34 L1203.99,1494.87 L1205.67,1495.43 L1207.33,1496.02 L1208.98,1496.64 L1210.6,1497.27 L1212.2,1497.9 L1213.78,1498.59 L1215.33,1499.36 L1216.86,1500.21 L1218.38,1501.1 L1219.88,1502.02 L1221.38,1502.96 L1222.88,1503.88 L1224.38,1504.78 L1225.89,1505.63 L1227.41,1506.41 L1228.94,1507.11 L1230.5,1507.7 L1231.99,1508.18 L1233.49,1508.63 L1235.01,1509.03 L1236.53,1509.4 L1238.06,1509.72 L1239.6,1510 L1241.13,1510.23 L1242.67,1510.42 L1244.21,1510.56 L1245.75,1510.66 L1247.28,1510.7 L1248.8,1510.7 L1250.32,1510.63 L1251.83,1510.5 L1253.33,1510.3 L1254.83,1510.04 L1256.33,1509.75 L1257.83,1509.41 L1259.34,1509.04 L1260.85,1508.64 L1262.37,1508.24 L1263.9,1507.82 L1265.44,1507.41 L1267,1507 L1268.73,1506.53 L1270.48,1506 L1272.24,1505.43 L1274.01,1504.82 L1275.79,1504.2 L1277.58,1503.57 L1279.38,1502.95 L1281.18,1502.35 L1282.98,1501.78 L1284.79,1501.26 L1286.6,1500.79 L1288.4,1500.4 L1290.17,1500.07 L1291.96,1499.77 L1293.76,1499.51 L1295.57,1499.28 L1297.37,1499.08 L1299.18,1498.91 L1300.99,1498.77 L1302.78,1498.66 L1304.56,1498.58 L1306.33,1498.53 L1308.08,1498.5 L1309.8,1498.5 L1311.39,1498.53 L1312.99,1498.6 L1314.6,1498.7 L1316.21,1498.83 L1317.81,1498.98 L1319.39,1499.16 L1320.94,1499.35 L1322.45,1499.55 L1323.93,1499.76 L1325.35,1499.97 L1326.71,1500.19 L1328,1500.4 L1328.87,1500.56 L1329.68,1500.75 L1330.45,1500.94 L1331.19,1501.15 L1331.9,1501.37 L1332.6,1501.58 L1333.3,1501.78 L1334.01,1501.97 L1334.75,1502.15 L1335.51,1502.3 L1336.33,1502.42 L1337.2,1502.5 L1338.5,1502.56 L1339.88,1502.55 L1341.33,1502.49 L1342.83,1502.38 L1344.37,1502.24 L1345.95,1502.07 L1347.55,1501.89 L1349.16,1501.69 L1350.78,1501.5 L1352.38,1501.31 L1353.95,1501.14 L1355.5,1501 L1357.06,1500.85 L1358.67,1500.67 L1360.31,1500.46 L1361.97,1500.24 L1363.63,1500.02 L1365.28,1499.81 L1366.88,1499.63 L1368.44,1499.48 L1369.93,1499.38 L1371.33,1499.34 L1372.63,1499.38 L1373.8,1499.5 L1375.04,1499.76 L1376.13,1500.13 L1377.12,1500.56 L1378.06,1501.04 L1379,1501.53 L1380,1502 L1380.55,1502.26 L1381.11,1502.57 L1381.68,1502.9 L1382.25,1503.25 L1382.82,1503.6 L1383.39,1503.94 L1383.95,1504.26 L1384.52,1504.55 L1385.63,1504.97 L1386.7,1505.1 L1387.65,1504.9 L1388.56,1504.43 L1389.45,1503.81 L1390.35,1503.13 L1391.26,1502.49 L1392.2,1502 L1393.2,1501.57 L1394.24,1501.11 L1395.29,1500.7 L1396.34,1500.41 L1397.35,1500.31 L1398.3,1500.5 L1398.88,1500.81 L1399.44,1501.24 L1399.97,1501.8 L1400.48,1502.46 L1400.98,1503.21 L1401.46,1504.03 L1401.94,1504.91 L1402.41,1505.83 L1402.89,1506.77 L1403.38,1507.73 L1403.88,1508.67 L1404.4,1509.6 L1405.12,1510.93 L1405.82,1512.41 L1406.53,1514 L1407.23,1515.67 L1407.94,1517.39 L1408.66,1519.13 L1409.4,1520.84 L1410.16,1522.5 L1410.94,1524.07 L1411.76,1525.51 L1412.61,1526.8 L1413.5,1527.9 L1414.15,1528.59 L1414.83,1529.27 L1415.52,1529.92 L1416.23,1530.54 L1416.95,1531.11 L1417.68,1531.63 L1418.42,1532.09 L1419.16,1532.47 L1419.91,1532.77 L1420.64,1532.99 L1421.38,1533.1 L1422.91,1532.94 L1423.72,1532.62 L1424.53,1532.15 L1425.34,1531.56 L1426.15,1530.86 L1426.96,1530.08 L1427.77,1529.24 L1428.58,1528.36 L1429.39,1527.47 L1430.2,1526.58 L1431,1525.72 L1431.8,1524.9 L1432.7,1523.97 L1433.58,1522.95 L1434.46,1521.88 L1435.33,1520.77 L1436.2,1519.63 L1437.07,1518.49 L1437.94,1517.37 L1438.83,1516.29 L1439.72,1515.26 L1440.63,1514.31 L1441.55,1513.45 L1442.5,1512.7 L1443.28,1512.15 L1444.08,1511.63 L1444.88,1511.12 L1445.7,1510.64 L1446.52,1510.2 L1447.35,1509.8 L1448.18,1509.46 L1449.01,1509.16 L1449.84,1508.94 L1450.66,1508.78 L1451.49,1508.7 L1452.3,1508.7 L1453.13,1508.8 L1453.96,1509.01 L1454.78,1509.31 L1455.59,1509.68 L1456.41,1510.13 L1457.22,1510.63 L1458.04,1511.18 L1458.87,1511.76 L1459.7,1512.36 L1460.55,1512.98 L1461.42,1513.59 L1462.3,1514.2 L1463.49,1515.05 L1464.71,1516 L1465.95,1517.05 L1467.22,1518.16 L1468.51,1519.31 L1469.81,1520.47 L1471.11,1521.63 L1472.42,1522.75 L1473.73,1523.81 L1475.03,1524.79 L1476.32,1525.66 L1477.6,1526.4 L1478.63,1526.93 L1479.66,1527.44 L1480.69,1527.93 L1481.72,1528.38 L1482.75,1528.8 L1483.78,1529.17 L1484.81,1529.49 L1485.83,1529.76 L1486.84,1529.96 L1487.84,1530.08 L1488.83,1530.13 L1489.8,1530.1 L1490.72,1529.98 L1491.64,1529.79 L1492.55,1529.52 L1493.44,1529.19 L1494.33,1528.8 L1495.22,1528.36 L1496.09,1527.87 L1496.96,1527.33 L1497.83,1526.76 L1498.69,1526.16 L1499.55,1525.54 L1500.4,1524.9 L1501.46,1524.01 L1502.5,1522.98 L1503.53,1521.84 L1504.55,1520.61 L1505.56,1519.32 L1506.56,1518.01 L1507.57,1516.7 L1508.57,1515.42 L1509.57,1514.21 L1510.57,1513.08 L1511.58,1512.06 L1512.6,1511.2 L1513.37,1510.61 L1514.14,1510.02 L1514.91,1509.45 L1515.69,1508.89 L1516.46,1508.37 L1517.24,1507.89 L1518.01,1507.47 L1518.78,1507.12 L1519.55,1506.84 L1520.31,1506.66 L1521.06,1506.57 L1522.59,1506.76 L1523.37,1507.05 L1524.14,1507.45 L1524.91,1507.95 L1525.67,1508.55 L1526.43,1509.22 L1527.19,1509.96 L1527.93,1510.75 L1528.68,1511.58 L1529.42,1512.44 L1530.16,1513.32 L1530.9,1514.2 L1531.94,1515.58 L1532.96,1517.18 L1533.95,1518.94 L1534.93,1520.83 L1535.9,1522.8 L1536.87,1524.82 L1537.85,1526.84 L1538.84,1528.82 L1539.85,1530.71 L1540.9,1532.49 L1541.98,1534.1 L1543.1,1535.5 L1543.98,1536.48 L1544.89,1537.47 L1545.82,1538.45 L1546.77,1539.4 L1547.72,1540.3 L1548.69,1541.14 L1549.66,1541.9 L1550.63,1542.56 L1551.59,1543.09 L1552.55,1543.49 L1553.48,1543.73 L1554.4,1543.8 L1555.27,1543.68 L1556.14,1543.4 L1557.01,1542.96 L1557.87,1542.4 L1558.73,1541.72 L1559.58,1540.95 L1560.43,1540.11 L1561.26,1539.21 L1562.09,1538.28 L1562.9,1537.34 L1563.71,1536.41 L1564.5,1535.5 L1565.44,1534.34 L1566.35,1533.05 L1567.22,1531.66 L1568.06,1530.2 L1568.9,1528.69 L1569.73,1527.15 L1570.56,1525.61 L1571.4,1524.1 L1572.27,1522.64 L1573.17,1521.25 L1574.11,1519.96 L1575.1,1518.8 L1575.99,1517.85 L1576.9,1516.86 L1577.84,1515.88 L1578.8,1514.9 L1579.78,1513.97 L1580.77,1513.09 L1581.76,1512.29 L1582.76,1511.59 L1583.76,1511.01 L1584.75,1510.57 L1585.73,1510.29 L1586.7,1510.2 L1587.65,1510.3 L1588.61,1510.58 L1589.57,1511.02 L1590.53,1511.6 L1591.49,1512.3 L1592.45,1513.09 L1593.4,1513.97 L1594.34,1514.9 L1595.27,1515.87 L1596.2,1516.85 L1597.11,1517.84 L1598,1518.8 L1599.09,1520.07 L1600.14,1521.49 L1601.18,1523.05 L1602.19,1524.7 L1603.19,1526.4 L1604.18,1528.13 L1605.16,1529.85 L1606.15,1531.53 L1607.14,1533.12 L1608.14,1534.61 L1609.16,1535.94 L1610.2,1537.1 L1610.94,1537.85 L1611.69,1538.59 L1612.43,1539.31 L1613.18,1540.01 L1613.93,1540.68 L1614.69,1541.28 L1615.44,1541.83 L1616.21,1542.3 L1616.97,1542.69 L1617.74,1542.97 L1618.52,1543.15 L1619.3,1543.2 L1620.17,1543.09 L1621.06,1542.81 L1621.96,1542.37 L1622.87,1541.8 L1623.78,1541.14 L1624.7,1540.39 L1625.61,1539.58 L1626.52,1538.74 L1627.41,1537.88 L1628.29,1537.05 L1629.16,1536.24 L1630,1535.5 L1630.81,1534.78 L1631.59,1534.01 L1632.35,1533.22 L1633.11,1532.4 L1633.85,1531.57 L1634.58,1530.74 L1635.31,1529.93 L1636.05,1529.13 L1636.79,1528.37 L1637.54,1527.66 L1638.31,1527 L1639.1,1526.4 L1639.79,1525.91 L1640.49,1525.42 L1641.2,1524.93 L1641.91,1524.45 L1642.63,1523.99 L1643.35,1523.57 L1644.08,1523.2 L1644.81,1522.88 L1645.53,1522.64 L1646.26,1522.46 L1646.98,1522.38 L1648.51,1522.54 L1649.32,1522.81 L1650.14,1523.18 L1650.95,1523.66 L1651.77,1524.21 L1652.58,1524.84 L1653.4,1525.53 L1654.21,1526.28 L1655.01,1527.06 L1655.82,1527.86 L1656.61,1528.68 L1657.4,1529.5 L1658.45,1530.71 L1659.47,1532.09 L1660.47,1533.62 L1661.46,1535.26 L1662.44,1536.96 L1663.42,1538.7 L1664.4,1540.43 L1665.4,1542.12 L1666.41,1543.73 L1667.44,1545.22 L1668.5,1546.55 L1669.6,1547.7 L1670.45,1548.48 L1671.31,1549.25 L1672.2,1550.01 L1673.09,1550.74 L1674,1551.42 L1674.91,1552.04 L1675.82,1552.59 L1676.73,1553.05 L1677.64,1553.42 L1678.54,1553.68 L1679.43,1553.81 L1680.3,1553.8 L1681.22,1553.61 L1682.14,1553.24 L1683.05,1552.71 L1683.95,1552.04 L1684.85,1551.26 L1685.75,1550.4 L1686.64,1549.46 L1687.52,1548.49 L1688.4,1547.51 L1689.27,1546.53 L1690.14,1545.59 L1691,1544.7 L1691.91,1543.74 L1692.81,1542.7 L1693.69,1541.61 L1694.56,1540.47 L1695.43,1539.32 L1696.3,1538.17 L1697.16,1537.05 L1698.03,1535.97 L1698.9,1534.95 L1699.79,1534.02 L1700.69,1533.2 L1701.6,1532.5 L1702.3,1532.04 L1702.99,1531.6 L1703.7,1531.18 L1704.4,1530.8 L1705.12,1530.46 L1705.83,1530.15 L1706.55,1529.89 L1707.27,1529.69 L1708,1529.54 L1708.73,1529.46 L1710.2,1529.5 L1711.1,1529.7 L1712,1530.04 L1712.91,1530.52 L1713.81,1531.1 L1714.72,1531.76 L1715.64,1532.49 L1716.57,1533.27 L1717.52,1534.07 L1718.48,1534.87 L1719.46,1535.66 L1720.47,1536.41 L1721.5,1537.1 L1722.77,1537.94 L1724.09,1538.88 L1725.45,1539.89 L1726.85,1540.93 L1728.27,1541.98 L1729.7,1543.01 L1731.14,1543.97 L1732.59,1544.85 L1734.02,1545.6 L1735.44,1546.2 L1736.84,1546.61 L1738.2,1546.8 L1739.38,1546.76 L1740.55,1546.55 L1741.72,1546.17 L1742.87,1545.68 L1744.02,1545.08 L1745.16,1544.42 L1746.3,1543.73 L1747.44,1543.02 L1748.58,1542.34 L1749.72,1541.7 L1750.86,1541.15 L1752,1540.7 L1753.07,1540.33 L1754.15,1539.95 L1755.23,1539.56 L1756.31,1539.19 L1757.4,1538.83 L1758.48,1538.5 L1759.55,1538.2 L1760.62,1537.96 L1761.68,1537.78 L1762.73,1537.67 L1763.77,1537.64 L1764.8,1537.7 L1765.79,1537.86 L1766.74,1538.13 L1767.67,1538.48 L1768.59,1538.9 L1769.5,1539.38 L1770.41,1539.91 L1771.32,1540.46 L1772.26,1541.03 L1773.21,1541.61 L1774.2,1542.17 L1775.23,1542.7 L1776.3,1543.2 L1777.77,1543.85 L1779.33,1544.58 L1780.95,1545.36 L1782.64,1546.16 L1784.36,1546.97 L1786.1,1547.75 L1787.86,1548.5 L1789.6,1549.18 L1791.33,1549.77 L1793.01,1550.26 L1794.64,1550.61 L1796.2,1550.8 L1797.42,1550.83 L1798.63,1550.77 L1799.82,1550.62 L1801,1550.39 L1802.16,1550.11 L1803.3,1549.79 L1804.43,1549.43 L1805.55,1549.06 L1806.66,1548.69 L1807.75,1548.33 L1808.83,1548 L1809.9,1547.7 L1810.83,1547.43 L1811.74,1547.13 L1812.63,1546.79 L1813.5,1546.44 L1814.36,1546.08 L1815.22,1545.74 L1816.08,1545.43 L1816.94,1545.15 L1817.81,1544.92 L1818.69,1544.76 L1819.58,1544.69 L1820.5,1544.7 L1821.59,1544.84 L1822.68,1545.1 L1823.77,1545.47 L1824.88,1545.92 L1825.99,1546.45 L1827.12,1547.03 L1828.26,1547.65 L1829.42,1548.3 L1830.6,1548.95 L1831.81,1549.6 L1833.04,1550.22 L1834.3,1550.8 L1835.92,1551.54 L1837.59,1552.38 L1839.32,1553.29 L1841.09,1554.23 L1842.9,1555.19 L1844.72,1556.13 L1846.56,1557.03 L1848.4,1557.85 L1850.24,1558.58 L1852.05,1559.18 L1853.84,1559.63 L1855.6,1559.9 L1857.16,1559.97 L1858.71,1559.89 L1860.27,1559.69 L1861.82,1559.39 L1863.36,1559.01 L1864.9,1558.57 L1866.43,1558.09 L1867.95,1557.61 L1869.46,1557.13 L1870.95,1556.69 L1872.43,1556.31 L1873.9,1556 L1875.22,1555.76 L1876.53,1555.51 L1877.83,1555.26 L1879.13,1555.02 L1880.41,1554.78 L1881.69,1554.56 L1882.95,1554.35 L1884.2,1554.17 L1885.45,1554.02 L1886.68,1553.91 L1887.9,1553.83 L1889.1,1553.8 L1890.15,1553.81 L1891.15,1553.86 L1892.13,1553.95 L1893.08,1554.06 L1894.03,1554.2 L1894.98,1554.35 L1895.94,1554.52 L1896.92,1554.69 L1897.94,1554.88 L1899,1555.06 L1900.12,1555.23 L1901.3,1555.4 L1903.22,1555.64 L1905.31,1555.88 L1907.54,1556.12 L1909.87,1556.37 L1912.28,1556.63 L1914.73,1556.9 L1917.21,1557.19 L1919.67,1557.5 L1922.09,1557.83 L1924.43,1558.19 L1926.68,1558.58 L1928.8,1559 L1930.46,1559.38 L1932.07,1559.79 L1933.63,1560.22 L1935.15,1560.68 L1936.64,1561.15 L1938.11,1561.63 L1939.58,1562.12 L1941.04,1562.61 L1942.52,1563.1 L1944.01,1563.58 L1945.54,1564.05 L1947.1,1564.5 L1948.83,1565 L1950.59,1565.54 L1952.38,1566.1 L1954.19,1566.67 L1956.02,1567.24 L1957.85,1567.8 L1959.67,1568.32 L1961.48,1568.8 L1963.27,1569.22 L1965.02,1569.57 L1966.73,1569.83 L1968.4,1570 L1969.76,1570.05 L1971.09,1570.03 L1972.41,1569.95 L1973.7,1569.81 L1974.98,1569.64 L1976.25,1569.43 L1977.5,1569.21 L1978.75,1568.98 L1979.99,1568.75 L1981.22,1568.54 L1982.46,1568.35 L1983.7,1568.2 L1984.87,1568.06 L1986.03,1567.9 L1987.19,1567.72 L1988.34,1567.54 L1989.48,1567.36 L1990.62,1567.19 L1991.76,1567.05 L1992.89,1566.93 L1994.02,1566.86 L1995.15,1566.84 L1996.27,1566.89 L1997.4,1567 L1998.56,1567.19 L1999.71,1567.43 L2000.86,1567.74 L2002,1568.09 L2003.14,1568.48 L2004.28,1568.92 L2005.42,1569.39 L2006.56,1569.89 L2007.69,1570.41 L2008.83,1570.96 L2009.96,1571.52 L2011.1,1572.1 L2012.37,1572.8 L2013.62,1573.59 L2014.88,1574.45 L2016.13,1575.36 L2017.37,1576.3 L2018.62,1577.26 L2019.88,1578.21 L2021.14,1579.13 L2022.41,1580.01 L2023.69,1580.83 L2024.99,1581.57 L2026.3,1582.2 L2027.54,1582.73 L2028.79,1583.24 L2030.05,1583.73 L2031.33,1584.19 L2032.61,1584.61 L2033.9,1584.99 L2035.2,1585.31 L2036.49,1585.58 L2037.78,1585.78 L2039.06,1585.9 L2040.34,1585.94 L2041.6,1585.9 L2042.89,1585.75 L2044.18,1585.48 L2045.47,1585.12 L2046.76,1584.67 L2048.05,1584.15 L2049.33,1583.58 L2050.6,1582.97 L2051.87,1582.33 L2053.12,1581.68 L2054.37,1581.03 L2055.59,1580.4 L2056.8,1579.8 L2057.93,1579.23 L2059.04,1578.62 L2060.12,1578 L2061.19,1577.35 L2062.25,1576.69 L2063.31,1576.03 L2064.36,1575.37 L2065.42,1574.73 L2066.49,1574.1 L2067.57,1573.5 L2068.67,1572.93 L2069.8,1572.4 L2070.98,1571.88 L2072.18,1571.37 L2073.41,1570.86 L2074.66,1570.36 L2075.92,1569.89 L2077.18,1569.43 L2078.43,1569.01 L2079.68,1568.63 L2080.9,1568.29 L2082.11,1568 L2083.27,1567.77 L2084.4,1567.6 L2085.26,1567.51 L2086.1,1567.45 L2086.91,1567.42 L2088.48,1567.45 L2089.25,1567.5 L2090.03,1567.58 L2090.81,1567.69 L2091.6,1567.81 L2092.41,1567.96 L2093.24,1568.12 L2094.1,1568.3 L2095.24,1568.58 L2096.41,1568.92 L2097.62,1569.31 L2098.85,1569.75 L2100.1,1570.23 L2101.37,1570.73 L2102.63,1571.24 L2103.9,1571.76 L2105.16,1572.28 L2106.4,1572.78 L2107.61,1573.26 L2108.8,1573.7 L2109.85,1574.08 L2110.89,1574.47 L2111.92,1574.86 L2112.94,1575.24 L2113.95,1575.62 L2114.95,1576 L2115.96,1576.36 L2116.96,1576.72 L2117.96,1577.06 L2118.97,1577.39 L2119.98,1577.71 L2121,1578 L2122,1578.27 L2123.01,1578.52 L2124.01,1578.76 L2125.01,1578.99 L2126.01,1579.2 L2127.01,1579.4 L2128.02,1579.6 L2129.04,1579.78 L2130.06,1579.97 L2131.1,1580.14 L2132.14,1580.32 L2133.2,1580.5 L2134.37,1580.69 L2135.55,1580.86 L2136.75,1581.03 L2137.96,1581.19 L2139.19,1581.34 L2140.41,1581.48 L2141.65,1581.63 L2142.88,1581.78 L2144.12,1581.92 L2145.35,1582.08 L2146.58,1582.23 L2147.8,1582.4 L2149.02,1582.58 L2150.23,1582.76 L2151.45,1582.95 L2152.66,1583.14 L2153.88,1583.34 L2155.09,1583.54 L2156.31,1583.73 L2157.53,1583.92 L2158.74,1584.11 L2159.96,1584.28 L2161.18,1584.45 L2162.4,1584.6 L2163.63,1584.75 L2164.86,1584.91 L2166.1,1585.07 L2167.35,1585.23 L2168.59,1585.39 L2169.83,1585.53 L2171.07,1585.66 L2172.3,1585.77 L2173.52,1585.85 L2174.73,1585.9 L2175.92,1585.92 L2177.1,1585.9 L2178.16,1585.84 L2179.2,1585.74 L2180.23,1585.61 L2181.25,1585.45 L2182.27,1585.27 L2183.27,1585.07 L2184.28,1584.87 L2185.28,1584.66 L2186.28,1584.45 L2187.28,1584.25 L2188.29,1584.07 L2189.3,1583.9 L2190.32,1583.75 L2191.33,1583.6 L2192.35,1583.45 L2193.37,1583.31 L2194.38,1583.17 L2195.4,1583.03 L2196.42,1582.89 L2197.43,1582.76 L2198.45,1582.62 L2199.47,1582.48 L2200.48,1582.34 L2201.5,1582.2 L2202.52,1582.05 L2203.53,1581.88 L2204.55,1581.7 L2205.57,1581.51 L2206.58,1581.32 L2207.6,1581.14 L2208.62,1580.97 L2209.63,1580.81 L2210.65,1580.69 L2211.67,1580.59 L2212.68,1580.52 L2213.7,1580.5 L2214.72,1580.52 L2215.74,1580.56 L2216.76,1580.63 L2217.78,1580.73 L2218.8,1580.85 L2219.82,1580.99 L2220.84,1581.16 L2221.86,1581.34 L2222.87,1581.53 L2223.88,1581.74 L2224.89,1581.97 L2225.9,1582.2 L2226.92,1582.46 L2227.92,1582.75 L2228.92,1583.06 L2229.91,1583.39 L2230.9,1583.74 L2231.89,1584.11 L2232.89,1584.48 L2233.89,1584.85 L2234.89,1585.22 L2235.91,1585.59 L2236.95,1585.95 L2238,1586.3 L2239.18,1586.68 L2240.4,1587.09 L2241.63,1587.51 L2242.89,1587.93 L2244.16,1588.35 L2245.43,1588.77 L2246.7,1589.17 L2247.95,1589.55 L2249.19,1589.9 L2250.39,1590.21 L2251.57,1590.48 L2252.7,1590.7 L2253.57,1590.84 L2254.42,1590.96 L2255.25,1591.06 L2256.06,1591.14 L2256.87,1591.21 L2257.66,1591.25 L2258.45,1591.28 L2260.02,1591.29 L2260.8,1591.27 L2261.6,1591.24 L2262.4,1591.2 L2263.22,1591.15 L2264.03,1591.08 L2264.84,1591.01 L2265.65,1590.92 L2266.46,1590.81 L2267.27,1590.69 L2268.08,1590.55 L2268.89,1590.39 L2269.71,1590.2 L2270.53,1590 L2271.36,1589.76 L2272.2,1589.5 L2273.19,1589.14 L2274.2,1588.72 L2275.22,1588.24 L2276.25,1587.72 L2277.29,1587.17 L2278.32,1586.6 L2279.36,1586.02 L2280.39,1585.44 L2281.41,1584.88 L2282.42,1584.35 L2283.42,1583.85 L2284.4,1583.4 L2285.24,1583.04 L2286.07,1582.69 L2286.89,1582.35 L2287.71,1582.02 L2288.52,1581.7 L2289.33,1581.39 L2290.13,1581.1 L2290.93,1580.81 L2291.72,1580.54 L2292.52,1580.28 L2293.31,1580.03 L2294.1,1579.8 L2294.83,1579.59 L2295.55,1579.38 L2296.27,1579.18 L2296.99,1578.99 L2297.71,1578.8 L2298.42,1578.63 L2299.13,1578.48 L2299.84,1578.34 L2300.56,1578.22 L2301.27,1578.12 L2302.7,1578 L2304.11,1577.98 L2305.52,1578.04 L2306.93,1578.18 L2307.64,1578.27 L2308.34,1578.39 L2309.05,1578.52 L2309.77,1578.66 L2310.48,1578.82 L2311.2,1579 L2312,1579.21 L2312.79,1579.43 L2313.58,1579.67 L2314.37,1579.93 L2315.16,1580.21 L2315.96,1580.51 L2316.77,1580.83 L2317.59,1581.18 L2318.41,1581.56 L2319.26,1581.97 L2320.12,1582.42 L2321,1582.9 L2322.3,1583.68 L2323.67,1584.58 L2325.1,1585.58 L2326.56,1586.66 L2328.05,1587.81 L2329.55,1588.98 L2331.05,1590.18 L2332.53,1591.36 L2333.98,1592.52 L2335.38,1593.63 L2336.73,1594.66 L2338,1595.6 L2338.9,1596.26 L2339.77,1596.91 L2340.61,1597.55 L2341.42,1598.18 L2342.22,1598.79 L2343.01,1599.38 L2343.79,1599.95 L2344.57,1600.49 L2345.35,1601.01 L2346.15,1601.51 L2346.96,1601.97 L2347.8,1602.4 L2348.59,1602.77 L2349.4,1603.13 L2350.21,1603.47 L2351.03,1603.79 L2351.86,1604.08 L2352.69,1604.35 L2353.52,1604.6 L2354.35,1604.82 L2355.17,1605.01 L2355.99,1605.17 L2356.8,1605.3 L2357.6,1605.4 L2359.05,1605.5 L2360.48,1605.5 L2361.9,1605.4 L2363.31,1605.22 L2364.01,1605.09 L2364.71,1604.95 L2365.41,1604.78 L2366.1,1604.6 L2366.83,1604.37 L2367.55,1604.09 L2368.27,1603.78 L2368.98,1603.43 L2369.69,1603.06 L2370.4,1602.67 L2371.11,1602.28 L2371.81,1601.89 L2372.51,1601.5 L2373.21,1601.14 L2373.91,1600.8 L2374.6,1600.5 L2375.23,1600.25 L2375.85,1600.03 L2376.48,1599.82 L2377.1,1599.62 L2377.72,1599.43 L2378.34,1599.24 L2378.95,1599.05 L2379.56,1598.87 L2380.17,1598.67 L2380.78,1598.46 L2381.39,1598.24 L2382,1598 L2382.61,1597.73 L2383.22,1597.44 L2383.82,1597.13 L2384.42,1596.81 L2385.01,1596.48 L2385.61,1596.15 L2386.21,1595.82 L2386.81,1595.5 L2387.42,1595.19 L2388.03,1594.9 L2388.66,1594.64 L2389.3,1594.4 L2389.97,1594.17 L2390.66,1593.95 L2391.36,1593.73 L2392.07,1593.51 L2392.78,1593.32 L2393.5,1593.14 L2394.22,1592.99 L2394.94,1592.86 L2395.66,1592.76 L2397.09,1592.68 L2398.51,1592.77 L2399.22,1592.89 L2399.93,1593.05 L2400.63,1593.25 L2401.34,1593.48 L2402.04,1593.74 L2402.75,1594.03 L2403.45,1594.32 L2404.16,1594.64 L2404.87,1594.96 L2405.58,1595.28 L2406.3,1595.6 L2407.1,1595.96 L2407.91,1596.33 L2408.72,1596.72 L2409.53,1597.12 L2410.34,1597.53 L2411.16,1597.97 L2411.98,1598.42 L2412.8,1598.89 L2413.62,1599.38 L2414.44,1599.9 L2415.27,1600.44 L2416.1,1601 L2417.1,1601.73 L2418.11,1602.52 L2419.12,1603.36 L2420.14,1604.24 L2421.16,1605.16 L2422.18,1606.09 L2423.21,1607.04 L2424.23,1607.98 L2425.26,1608.9 L2426.28,1609.81 L2427.29,1610.68 L2428.3,1611.5 L2429.22,1612.24 L2430.14,1612.99 L2431.06,1613.74 L2431.97,1614.49 L2432.88,1615.22 L2433.79,1615.94 L2434.7,1616.63 L2435.62,1617.3 L2436.53,1617.92 L2437.45,1618.5 L2438.37,1619.03 L2439.3,1619.5 L2440.1,1619.87 L2440.91,1620.22 L2441.73,1620.55 L2442.54,1620.85 L2443.36,1621.13 L2444.18,1621.38 L2445,1621.59 L2445.81,1621.76 L2446.62,1621.89 L2447.42,1621.98 L2448.22,1622.01 L2449.74,1621.94 L2450.47,1621.84 L2451.2,1621.69 L2451.92,1621.51 L2452.64,1621.29 L2453.35,1621.03 L2454.06,1620.74 L2454.77,1620.41 L2455.48,1620.05 L2456.18,1619.66 L2456.89,1619.24 L2457.6,1618.8 L2458.52,1618.17 L2459.45,1617.47 L2460.38,1616.7 L2461.32,1615.88 L2462.24,1615 L2463.17,1614.08 L2464.09,1613.11 L2465,1612.1 L2465.89,1611.06 L2466.78,1610 L2467.65,1608.91 L2468.5,1607.8 L2469.5,1606.42 L2470.49,1604.97 L2471.45,1603.46 L2472.4,1601.89 L2473.33,1600.28 L2474.25,1598.62 L2475.15,1596.94 L2476.05,1595.22 L2476.92,1593.5 L2477.79,1591.76 L2478.65,1590.03 L2479.5,1588.3 L2480.38,1586.45 L2481.23,1584.55 L2482.06,1582.61 L2482.87,1580.64 L2483.67,1578.66 L2484.46,1576.66 L2485.25,1574.67 L2486.03,1572.69 L2486.83,1570.74 L2487.63,1568.81 L2488.46,1566.93 L2489.3,1565.1 L2490.08,1563.47 L2490.88,1561.84 L2491.68,1560.22 L2492.5,1558.62 L2493.32,1557.03 L2494.14,1555.47 L2494.96,1553.93 L2495.78,1552.42 L2496.6,1550.95 L2497.41,1549.52 L2498.21,1548.14 L2499,1546.8 L2499.61,1545.75 L2500.19,1544.68 L2500.75,1543.61 L2501.3,1542.55 L2501.85,1541.52 L2502.41,1540.52 L2502.97,1539.56 L2503.56,1538.67 L2504.18,1537.84 L2504.84,1537.1 L2505.54,1536.45 L2506.3,1535.9 L2507.01,1535.49 L2507.78,1535.12 L2508.59,1534.8 L2509.43,1534.52 L2510.29,1534.29 L2511.17,1534.12 L2512.05,1534.01 L2512.92,1533.98 L2513.77,1534.01 L2514.59,1534.12 L2515.37,1534.32 L2516.1,1534.6 L2516.96,1535.11 L2517.78,1535.8 L2518.55,1536.64 L2519.29,1537.63 L2520,1538.72 L2520.68,1539.92 L2521.34,1541.19 L2522,1542.52 L2522.64,1543.88 L2523.29,1545.27 L2523.94,1546.64 L2524.6,1548 L2525.48,1549.82 L2526.35,1551.76 L2527.21,1553.79 L2528.07,1555.9 L2528.91,1558.08 L2529.74,1560.3 L2530.56,1562.56 L2531.36,1564.82 L2532.14,1567.09 L2532.91,1569.33 L2533.67,1571.54 L2534.4,1573.7 L2535.08,1575.74 L2535.73,1577.79 L2536.36,1579.83 L2536.97,1581.88 L2537.57,1583.92 L2538.16,1585.96 L2538.74,1587.99 L2539.32,1590.01 L2539.9,1592.03 L2540.49,1594.03 L2541.09,1596.02 L2541.7,1598 L2542.29,1599.9 L2542.89,1601.82 L2543.49,1603.75 L2544.08,1605.68 L2544.68,1607.6 L2545.28,1609.51 L2545.89,1611.38 L2546.5,1613.22 L2547.12,1615.01 L2547.74,1616.75 L2548.36,1618.41 L2549,1620 L2549.49,1621.18 L2549.98,1622.35 L2550.47,1623.5 L2550.96,1624.62 L2551.45,1625.72 L2551.95,1626.79 L2552.46,1627.81 L2552.97,1628.8 L2553.49,1629.73 L2554.01,1630.61 L2554.55,1631.44 L2555.1,1632.2 L2555.49,1632.71 L2555.88,1633.22 L2556.27,1633.73 L2556.66,1634.22 L2557.06,1634.69 L2557.47,1635.12 L2557.88,1635.52 L2558.71,1636.16 L2559.56,1636.53 L2560.48,1636.57 L2561.51,1636.24 L2562.04,1635.95 L2562.57,1635.6 L2563.11,1635.2 L2563.64,1634.75 L2564.17,1634.26 L2564.68,1633.76 L2565.18,1633.24 L2565.65,1632.71 L2566.1,1632.2 L2566.61,1631.57 L2567.09,1630.9 L2567.54,1630.2 L2567.98,1629.46 L2568.4,1628.69 L2568.8,1627.89 L2569.18,1627.05 L2569.56,1626.18 L2569.93,1625.28 L2570.29,1624.35 L2570.64,1623.39 L2571,1622.4 L2571.5,1620.92 L2571.97,1619.35 L2572.41,1617.7 L2572.84,1615.97 L2573.24,1614.19 L2573.64,1612.35 L2574.02,1610.45 L2574.39,1608.52 L2574.76,1606.55 L2575.12,1604.55 L2575.48,1602.53 L2575.85,1600.5 L2576.3,1597.93 L2576.75,1595.26 L2577.18,1592.53 L2577.61,1589.72 L2578.03,1586.86 L2578.43,1583.96 L2578.83,1581.03 L2579.22,1578.08 L2579.61,1575.12 L2579.98,1572.16 L2580.34,1569.22 L2580.7,1566.3 L2581.05,1563.3 L2581.39,1560.29 L2581.72,1557.27 L2582.03,1554.23 L2582.34,1551.18 L2582.64,1548.13 L2582.93,1545.08 L2583.22,1542.02 L2583.51,1538.96 L2583.8,1535.9 L2584.1,1532.85 L2584.4,1529.8 L2584.7,1526.74 L2585.01,1523.66 L2585.31,1520.56 L2585.61,1517.45 L2585.91,1514.35 L2586.21,1511.25 L2586.51,1508.16 L2586.81,1505.1 L2587.1,1502.06 L2587.4,1499.06 L2587.7,1496.11 L2588,1493.2 L2588.27,1490.62 L2588.53,1488.04 L2588.8,1485.48 L2589.06,1482.92 L2589.33,1480.39 L2589.59,1477.89 L2589.86,1475.43 L2590.12,1473.01 L2590.39,1470.64 L2590.66,1468.33 L2590.93,1466.08 L2591.2,1463.9 L2591.41,1462.25 L2591.63,1460.66 L2591.84,1459.11 L2592.06,1457.6 L2592.28,1456.13 L2592.49,1454.67 L2592.71,1453.23 L2592.93,1451.8 L2593.15,1450.37 L2593.37,1448.93 L2593.58,1447.48 L2593.8,1446" fill="none" stroke="#000000" stroke-width="6.25" stroke-linejoin="round" stroke-linecap="square" clip-path="url(#cB)"/>
<rect x="395.83" y="1772.57" width="236.61" height="75.6" rx="8.33" ry="8.33" fill="#ffffff" fill-opacity="0.8" stroke="#cccccc" stroke-opacity="0.8" stroke-width="4.1667"/><path d="M412.5,1807.47 H495.83" stroke="#000000" stroke-width="6.25" stroke-linecap="square" fill="none"/><text y="1821.47" font-size="43.54" fill="#000000" xml:space="preserve"><tspan x="530.26" textLength="21.93" lengthAdjust="spacingAndGlyphs">F</tspan><tspan x="554.19" textLength="9.52" lengthAdjust="spacingAndGlyphs">l</tspan><tspan x="565.33" textLength="24.95" lengthAdjust="spacingAndGlyphs">u</tspan><tspan x="591.79" textLength="23.14" lengthAdjust="spacingAndGlyphs">x</tspan></text>
<rect x="375.5" y="1166.5" width="2325" height="703" fill="none" stroke="#000" stroke-width="3.33"/>
<rect x="375.5" y="1166.5" width="2325" height="703" fill="none" stroke="#000" stroke-width="3.33"/>
<path d="M393.5,1869.5 v14.58" stroke="#000" stroke-width="3.33"/><text y="1930.9" font-size="44.17" fill="#000000" xml:space="preserve" stroke="#000000" stroke-width="0.22"><tspan x="354.39" textLength="23.54" lengthAdjust="spacingAndGlyphs">3</tspan><tspan x="380.3" textLength="24.51" lengthAdjust="spacingAndGlyphs">0</tspan><tspan x="406.81" textLength="24.51" lengthAdjust="spacingAndGlyphs">0</tspan></text><path d="M686.5,1869.5 v14.58" stroke="#000" stroke-width="3.33"/><text y="1930.9" font-size="44.17" fill="#000000" xml:space="preserve" stroke="#000000" stroke-width="0.22"><tspan x="647.4" textLength="24.44" lengthAdjust="spacingAndGlyphs">4</tspan><tspan x="673.86" textLength="24.51" lengthAdjust="spacingAndGlyphs">0</tspan><tspan x="700.38" textLength="24.51" lengthAdjust="spacingAndGlyphs">0</tspan></text><path d="M980.5,1869.5 v14.58" stroke="#000" stroke-width="3.33"/><text y="1930.9" font-size="44.17" fill="#000000" xml:space="preserve" stroke="#000000" stroke-width="0.22"><tspan x="941.54" textLength="23.05" lengthAdjust="spacingAndGlyphs">5</tspan><tspan x="967.43" textLength="24.51" lengthAdjust="spacingAndGlyphs">0</tspan><tspan x="993.94" textLength="24.51" lengthAdjust="spacingAndGlyphs">0</tspan></text><path d="M1273.5,1869.5 v14.58" stroke="#000" stroke-width="3.33"/><text y="1930.9" font-size="44.17" fill="#000000" xml:space="preserve" stroke="#000000" stroke-width="0.22"><tspan x="1234.18" textLength="25.18" lengthAdjust="spacingAndGlyphs">6</tspan><tspan x="1260.99" textLength="24.51" lengthAdjust="spacingAndGlyphs">0</tspan><tspan x="1287.5" textLength="24.51" lengthAdjust="spacingAndGlyphs">0</tspan></text><path d="M1567.5,1869.5 v14.58" stroke="#000" stroke-width="3.33"/><text y="1930.9" font-size="44.17" fill="#000000" xml:space="preserve" stroke="#000000" stroke-width="0.22"><tspan x="1528.39" textLength="23.81" lengthAdjust="spacingAndGlyphs">7</tspan><tspan x="1554.55" textLength="24.51" lengthAdjust="spacingAndGlyphs">0</tspan><tspan x="1581.06" textLength="24.51" lengthAdjust="spacingAndGlyphs">0</tspan></text><path d="M1860.5,1869.5 v14.58" stroke="#000" stroke-width="3.33"/><text y="1930.9" font-size="44.17" fill="#000000" xml:space="preserve" stroke="#000000" stroke-width="0.22"><tspan x="1821.58" textLength="24.65" lengthAdjust="spacingAndGlyphs">8</tspan><tspan x="1848.11" textLength="24.51" lengthAdjust="spacingAndGlyphs">0</tspan><tspan x="1874.62" textLength="24.51" lengthAdjust="spacingAndGlyphs">0</tspan></text><path d="M2154.5,1869.5 v14.58" stroke="#000" stroke-width="3.33"/><text y="1930.9" font-size="44.17" fill="#000000" xml:space="preserve" stroke="#000000" stroke-width="0.22"><tspan x="2114.67" textLength="25.18" lengthAdjust="spacingAndGlyphs">9</tspan><tspan x="2141.67" textLength="24.51" lengthAdjust="spacingAndGlyphs">0</tspan><tspan x="2168.18" textLength="24.51" lengthAdjust="spacingAndGlyphs">0</tspan></text><path d="M2448.5,1869.5 v14.58" stroke="#000" stroke-width="3.33"/><text y="1930.9" font-size="44.17" fill="#000000" xml:space="preserve" stroke="#000000" stroke-width="0.22"><tspan x="2395.96" textLength="23.31" lengthAdjust="spacingAndGlyphs">1</tspan><tspan x="2421.97" textLength="24.51" lengthAdjust="spacingAndGlyphs">0</tspan><tspan x="2448.48" textLength="24.51" lengthAdjust="spacingAndGlyphs">0</tspan><tspan x="2474.99" textLength="24.51" lengthAdjust="spacingAndGlyphs">0</tspan></text>
<path d="M375.5,1841.5 h-14.58" stroke="#000" stroke-width="3.33"/><text y="1856.6" font-size="44.17" fill="#008000" xml:space="preserve" stroke="#008000" stroke-width="0.22"><tspan x="280.51" textLength="24.51" lengthAdjust="spacingAndGlyphs">0</tspan><tspan x="306.61" textLength="12.17" lengthAdjust="spacingAndGlyphs">.</tspan><tspan x="320.27" textLength="24.51" lengthAdjust="spacingAndGlyphs">0</tspan></text><path d="M375.5,1697.5 h-14.58" stroke="#000" stroke-width="3.33"/><text y="1712.25" font-size="44.17" fill="#008000" xml:space="preserve" stroke="#008000" stroke-width="0.22"><tspan x="280.51" textLength="24.51" lengthAdjust="spacingAndGlyphs">0</tspan><tspan x="306.61" textLength="12.17" lengthAdjust="spacingAndGlyphs">.</tspan><tspan x="320.89" textLength="23.05" lengthAdjust="spacingAndGlyphs">5</tspan></text><path d="M375.5,1553.5 h-14.58" stroke="#000" stroke-width="3.33"/><text y="1567.9" font-size="44.17" fill="#008000" xml:space="preserve" stroke="#008000" stroke-width="0.22"><tspan x="281.01" textLength="23.31" lengthAdjust="spacingAndGlyphs">1</tspan><tspan x="306.61" textLength="12.17" lengthAdjust="spacingAndGlyphs">.</tspan><tspan x="320.27" textLength="24.51" lengthAdjust="spacingAndGlyphs">0</tspan></text><path d="M375.5,1408.5 h-14.58" stroke="#000" stroke-width="3.33"/><text y="1423.55" font-size="44.17" fill="#008000" xml:space="preserve" stroke="#008000" stroke-width="0.22"><tspan x="281.01" textLength="23.31" lengthAdjust="spacingAndGlyphs">1</tspan><tspan x="306.61" textLength="12.17" lengthAdjust="spacingAndGlyphs">.</tspan><tspan x="320.89" textLength="23.05" lengthAdjust="spacingAndGlyphs">5</tspan></text><path d="M375.5,1264.5 h-14.58" stroke="#000" stroke-width="3.33"/><text y="1279.2" font-size="44.17" fill="#008000" xml:space="preserve" stroke="#008000" stroke-width="0.22"><tspan x="280.46" textLength="23.68" lengthAdjust="spacingAndGlyphs">2</tspan><tspan x="306.61" textLength="12.17" lengthAdjust="spacingAndGlyphs">.</tspan><tspan x="320.27" textLength="24.51" lengthAdjust="spacingAndGlyphs">0</tspan></text>
<path d="M2700.5,1734.5 h14.58" stroke="#000" stroke-width="3.33"/><text y="1749" font-size="44.17" fill="#000000" xml:space="preserve" stroke="#000000" stroke-width="0.22"><tspan x="2730.11" textLength="24.51" lengthAdjust="spacingAndGlyphs">0</tspan><tspan x="2756.21" textLength="12.17" lengthAdjust="spacingAndGlyphs">.</tspan><tspan x="2769.87" textLength="24.51" lengthAdjust="spacingAndGlyphs">0</tspan></text><path d="M2700.5,1586.5 h14.58" stroke="#000" stroke-width="3.33"/><text y="1601.34" font-size="44.17" fill="#000000" xml:space="preserve" stroke="#000000" stroke-width="0.22"><tspan x="2730.11" textLength="24.51" lengthAdjust="spacingAndGlyphs">0</tspan><tspan x="2756.21" textLength="12.17" lengthAdjust="spacingAndGlyphs">.</tspan><tspan x="2770.49" textLength="23.05" lengthAdjust="spacingAndGlyphs">5</tspan></text><path d="M2700.5,1438.5 h14.58" stroke="#000" stroke-width="3.33"/><text y="1453.67" font-size="44.17" fill="#000000" xml:space="preserve" stroke="#000000" stroke-width="0.22"><tspan x="2730.61" textLength="23.31" lengthAdjust="spacingAndGlyphs">1</tspan><tspan x="2756.21" textLength="12.17" lengthAdjust="spacingAndGlyphs">.</tspan><tspan x="2769.87" textLength="24.51" lengthAdjust="spacingAndGlyphs">0</tspan></text><path d="M2700.5,1291.5 h14.58" stroke="#000" stroke-width="3.33"/><text y="1306.01" font-size="44.17" fill="#000000" xml:space="preserve" stroke="#000000" stroke-width="0.22"><tspan x="2730.61" textLength="23.31" lengthAdjust="spacingAndGlyphs">1</tspan><tspan x="2756.21" textLength="12.17" lengthAdjust="spacingAndGlyphs">.</tspan><tspan x="2770.49" textLength="23.05" lengthAdjust="spacingAndGlyphs">5</tspan></text>
<text y="1141" font-size="52.25" fill="#000000" xml:space="preserve"><tspan x="1348.82" textLength="33.55" lengthAdjust="spacingAndGlyphs">C</tspan><tspan x="1384.4" textLength="24.97" lengthAdjust="spacingAndGlyphs">a</tspan><tspan x="1415.23" textLength="11.43" lengthAdjust="spacingAndGlyphs">l</tspan><tspan x="1429.12" textLength="11.43" lengthAdjust="spacingAndGlyphs">i</tspan><tspan x="1442.7" textLength="30.28" lengthAdjust="spacingAndGlyphs">b</tspan><tspan x="1473.82" textLength="21.27" lengthAdjust="spacingAndGlyphs">r</tspan><tspan x="1495.12" textLength="24.97" lengthAdjust="spacingAndGlyphs">a</tspan><tspan x="1525.05" textLength="18.52" lengthAdjust="spacingAndGlyphs">t</tspan><tspan x="1544.73" textLength="30.03" lengthAdjust="spacingAndGlyphs">e</tspan><tspan x="1575.47" textLength="30.28" lengthAdjust="spacingAndGlyphs">d</tspan> <tspan x="1623.99" textLength="26.31" lengthAdjust="spacingAndGlyphs">F</tspan><tspan x="1652.71" textLength="11.43" lengthAdjust="spacingAndGlyphs">l</tspan><tspan x="1666.07" textLength="29.94" lengthAdjust="spacingAndGlyphs">u</tspan><tspan x="1697.82" textLength="27.76" lengthAdjust="spacingAndGlyphs">x</tspan></text>
<text y="1990.3" font-size="43.54" fill="#000000" xml:space="preserve"><tspan x="1358.68" textLength="38.8" lengthAdjust="spacingAndGlyphs">W</tspan><tspan x="1396.98" textLength="20.81" lengthAdjust="spacingAndGlyphs">a</tspan><tspan x="1422.74" textLength="22.41" lengthAdjust="spacingAndGlyphs">v</tspan><tspan x="1446.64" textLength="25.02" lengthAdjust="spacingAndGlyphs">e</tspan><tspan x="1472.96" textLength="9.52" lengthAdjust="spacingAndGlyphs">l</tspan><tspan x="1483.85" textLength="25.02" lengthAdjust="spacingAndGlyphs">e</tspan><tspan x="1509.81" textLength="25.08" lengthAdjust="spacingAndGlyphs">n</tspan><tspan x="1535.88" textLength="25.23" lengthAdjust="spacingAndGlyphs">g</tspan><tspan x="1562.28" textLength="15.44" lengthAdjust="spacingAndGlyphs">t</tspan><tspan x="1578.88" textLength="25.23" lengthAdjust="spacingAndGlyphs">h</tspan> <tspan x="1619.29" textLength="11.78" lengthAdjust="spacingAndGlyphs">(</tspan><tspan x="1634.92" textLength="25.08" lengthAdjust="spacingAndGlyphs">n</tspan><tspan x="1661.16" textLength="39.67" lengthAdjust="spacingAndGlyphs">m</tspan><tspan x="1704.28" textLength="11.78" lengthAdjust="spacingAndGlyphs">)</tspan></text>
<text y="1153.8" font-size="44.17" fill="#000000" xml:space="preserve"><tspan x="376.44" textLength="23.31" lengthAdjust="spacingAndGlyphs">1</tspan><tspan x="401.89" textLength="25.02" lengthAdjust="spacingAndGlyphs">e</tspan><tspan x="428.82" textLength="31.48" lengthAdjust="spacingAndGlyphs">−</tspan><tspan x="463.5" textLength="23.31" lengthAdjust="spacingAndGlyphs">1</tspan><tspan x="489.86" textLength="23.81" lengthAdjust="spacingAndGlyphs">7</tspan></text>
<text y="1153.8" font-size="44.17" fill="#000000" xml:space="preserve"><tspan x="2561.36" textLength="23.31" lengthAdjust="spacingAndGlyphs">1</tspan><tspan x="2586.81" textLength="25.02" lengthAdjust="spacingAndGlyphs">e</tspan><tspan x="2613.75" textLength="31.48" lengthAdjust="spacingAndGlyphs">−</tspan><tspan x="2648.42" textLength="23.31" lengthAdjust="spacingAndGlyphs">1</tspan><tspan x="2674.79" textLength="23.81" lengthAdjust="spacingAndGlyphs">7</tspan></text>
<g transform="translate(252.2,1743.5) rotate(-90)"><text y="0" font-size="43.54" fill="#008000" xml:space="preserve"><tspan x="1.1" textLength="21.93" lengthAdjust="spacingAndGlyphs">F</tspan><tspan x="25.03" textLength="9.52" lengthAdjust="spacingAndGlyphs">l</tspan><tspan x="36.17" textLength="24.95" lengthAdjust="spacingAndGlyphs">u</tspan><tspan x="62.62" textLength="23.14" lengthAdjust="spacingAndGlyphs">x</tspan> <tspan x="101.19" textLength="11.78" lengthAdjust="spacingAndGlyphs">(</tspan><tspan x="117.26" textLength="38.8" lengthAdjust="spacingAndGlyphs">W</tspan></text><text y="6.3" font-size="53.99" fill="#008000" xml:space="preserve"><tspan x="170.9" textLength="20.1" lengthAdjust="spacingAndGlyphs">*</tspan></text><text y="0" font-size="43.54" fill="#008000" xml:space="preserve"><tspan x="205.17" textLength="39.67" lengthAdjust="spacingAndGlyphs">m</tspan></text><text y="-16.5" font-size="30.48" fill="#008000" xml:space="preserve"><tspan x="245.85" textLength="16.58" lengthAdjust="spacingAndGlyphs">2</tspan></text><text y="6.3" font-size="53.99" fill="#008000" xml:space="preserve"><tspan x="277.37" textLength="20.1" lengthAdjust="spacingAndGlyphs">*</tspan></text><text y="0" font-size="43.54" fill="#008000" xml:space="preserve"><tspan x="311.81" textLength="25.08" lengthAdjust="spacingAndGlyphs">n</tspan><tspan x="338.05" textLength="39.67" lengthAdjust="spacingAndGlyphs">m</tspan></text><text y="-16.5" font-size="30.48" fill="#008000" xml:space="preserve"><tspan x="387.28" textLength="22.04" lengthAdjust="spacingAndGlyphs">−</tspan></text><text y="-16.5" font-size="30.48" fill="#008000" xml:space="preserve"><tspan x="417.95" textLength="16.32" lengthAdjust="spacingAndGlyphs">1</tspan></text><text y="0" font-size="43.54" fill="#008000" xml:space="preserve"><tspan x="439.56" textLength="11.78" lengthAdjust="spacingAndGlyphs">)</tspan></text></g>
<g transform="translate(2848.9,1743.5) rotate(-90)"><text y="0" font-size="43.54" fill="#000000" xml:space="preserve"><tspan x="1.1" textLength="21.93" lengthAdjust="spacingAndGlyphs">F</tspan><tspan x="25.03" textLength="9.52" lengthAdjust="spacingAndGlyphs">l</tspan><tspan x="36.17" textLength="24.95" lengthAdjust="spacingAndGlyphs">u</tspan><tspan x="62.62" textLength="23.14" lengthAdjust="spacingAndGlyphs">x</tspan> <tspan x="101.19" textLength="11.78" lengthAdjust="spacingAndGlyphs">(</tspan><tspan x="117.26" textLength="38.8" lengthAdjust="spacingAndGlyphs">W</tspan></text><text y="6.3" font-size="53.99" fill="#000000" xml:space="preserve"><tspan x="170.9" textLength="20.1" lengthAdjust="spacingAndGlyphs">*</tspan></text><text y="0" font-size="43.54" fill="#000000" xml:space="preserve"><tspan x="205.17" textLength="39.67" lengthAdjust="spacingAndGlyphs">m</tspan></text><text y="-16.5" font-size="30.48" fill="#000000" xml:space="preserve"><tspan x="245.85" textLength="16.58" lengthAdjust="spacingAndGlyphs">2</tspan></text><text y="6.3" font-size="53.99" fill="#000000" xml:space="preserve"><tspan x="277.37" textLength="20.1" lengthAdjust="spacingAndGlyphs">*</tspan></text><text y="0" font-size="43.54" fill="#000000" xml:space="preserve"><tspan x="311.81" textLength="25.08" lengthAdjust="spacingAndGlyphs">n</tspan><tspan x="338.05" textLength="39.67" lengthAdjust="spacingAndGlyphs">m</tspan></text><text y="-16.5" font-size="30.48" fill="#000000" xml:space="preserve"><tspan x="387.28" textLength="22.04" lengthAdjust="spacingAndGlyphs">−</tspan></text><text y="-16.5" font-size="30.48" fill="#000000" xml:space="preserve"><tspan x="417.95" textLength="16.32" lengthAdjust="spacingAndGlyphs">1</tspan></text><text y="0" font-size="43.54" fill="#000000" xml:space="preserve"><tspan x="439.56" textLength="11.78" lengthAdjust="spacingAndGlyphs">)</tspan></text></g>
</svg></body></html>
